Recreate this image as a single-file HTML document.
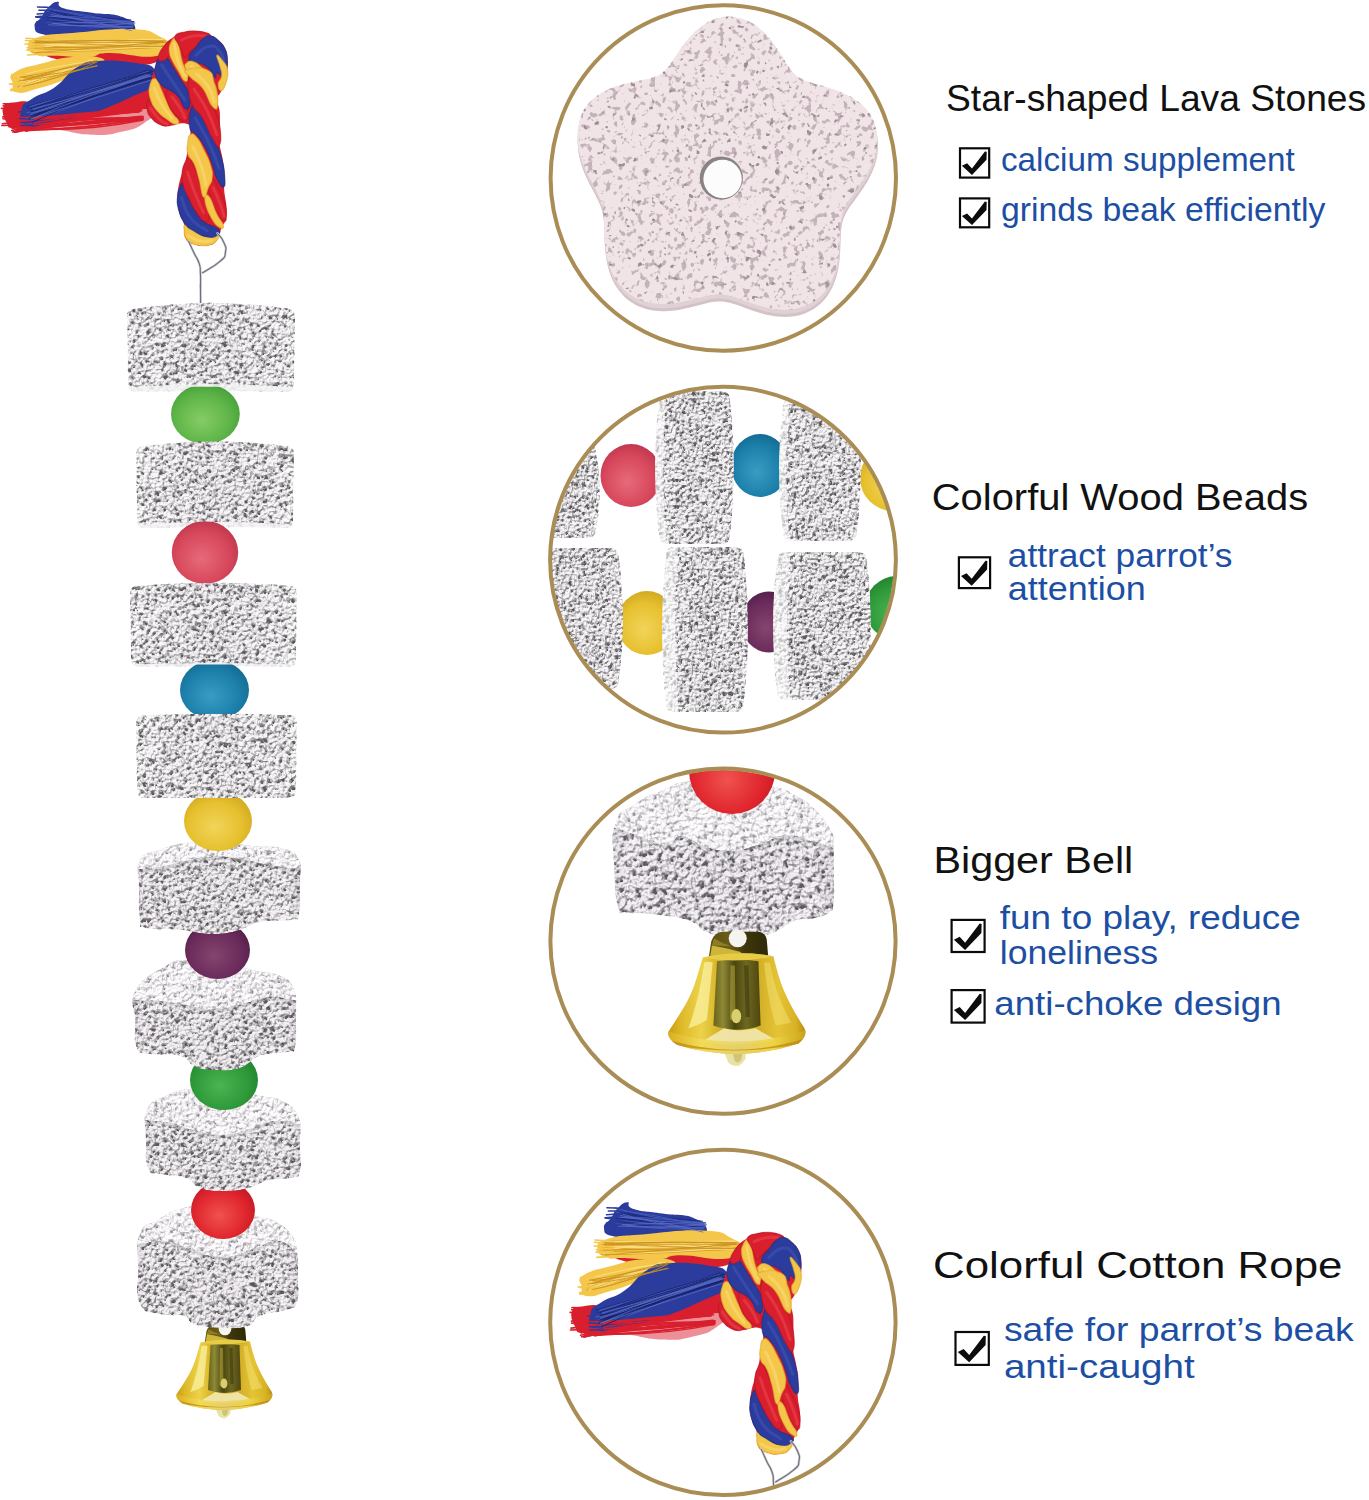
<!DOCTYPE html>
<html><head><meta charset="utf-8"><title>Parrot toy</title>
<style>html,body{margin:0;padding:0;background:#fff}svg{display:block}</style></head>
<body>
<svg width="1369" height="1500" viewBox="0 0 1369 1500" font-family="'Liberation Sans', sans-serif">
<rect width="100%" height="100%" fill="#fff"/>
<defs>


<filter id="pumP" x="-2%" y="-2%" width="104%" height="104%" color-interpolation-filters="sRGB">
  <feTurbulence type="fractalNoise" baseFrequency="0.16" numOctaves="2" seed="9" result="n"/>
  <feColorMatrix in="n" type="matrix" values="0 0 0 0 0.77  0 0 0 0 0.70  0 0 0 0 0.73  9 0 0 0 -5.15" result="sp"/>
  <feColorMatrix in="n" type="matrix" values="0 0 0 0 0.62  0 0 0 0 0.56  0 0 0 0 0.59  0 10 0 0 -6.75" result="sp2"/>
  <feMerge result="m"><feMergeNode in="SourceGraphic"/><feMergeNode in="sp"/><feMergeNode in="sp2"/></feMerge>
  <feComposite in="m" in2="SourceAlpha" operator="in"/>
</filter>



<linearGradient id="sideG" x1="0" y1="0" x2="1" y2="0">
  <stop offset="0" stop-color="#ece9ed"/><stop offset="0.08" stop-color="#f8f6f8"/>
  <stop offset="0.5" stop-color="#f4f2f4"/><stop offset="0.92" stop-color="#f7f5f7"/><stop offset="1" stop-color="#e9e6ea"/>
</linearGradient>
<linearGradient id="stoneG" x1="0" y1="0" x2="1" y2="0">
  <stop offset="0" stop-color="#ffffff"/><stop offset="0.07" stop-color="#fcfbfc"/>
  <stop offset="0.5" stop-color="#f7f6f7"/><stop offset="0.93" stop-color="#fbfafb"/><stop offset="1" stop-color="#ffffff"/>
</linearGradient>
<linearGradient id="topG" x1="0" y1="0" x2="0" y2="1">
  <stop offset="0" stop-color="#fff" stop-opacity="0.85"/><stop offset="0.7" stop-color="#fff" stop-opacity="0.6"/>
  <stop offset="1" stop-color="#fff" stop-opacity="0"/>
</linearGradient>
<linearGradient id="bellG" x1="0" y1="0" x2="1" y2="0">
  <stop offset="0" stop-color="#c99e14"/><stop offset="0.10" stop-color="#dfbb2a"/>
  <stop offset="0.24" stop-color="#ecd24a"/><stop offset="0.36" stop-color="#d8b42a"/>
  <stop offset="0.64" stop-color="#d2ac24"/><stop offset="0.80" stop-color="#e4c436"/>
  <stop offset="0.93" stop-color="#d8b226"/><stop offset="1" stop-color="#b88c10"/>
</linearGradient>
<linearGradient id="bellD" x1="0" y1="0" x2="1" y2="0">
  <stop offset="0" stop-color="#6a6218"/><stop offset="0.2" stop-color="#8e8a36"/>
  <stop offset="0.45" stop-color="#4a4510"/><stop offset="0.7" stop-color="#6e6820"/>
  <stop offset="1" stop-color="#4e4610"/>
</linearGradient>
<linearGradient id="rimG" x1="0" y1="0" x2="1" y2="0">
  <stop offset="0" stop-color="#d8ae1a"/><stop offset="0.25" stop-color="#f3dc58"/>
  <stop offset="0.5" stop-color="#e8d470"/><stop offset="0.75" stop-color="#f0d648"/>
  <stop offset="1" stop-color="#c9a016"/>
</linearGradient>
<linearGradient id="tabG" x1="0" y1="0" x2="1" y2="0">
  <stop offset="0" stop-color="#5a4e12"/><stop offset="0.35" stop-color="#6a5c16"/>
  <stop offset="0.6" stop-color="#3e370c"/><stop offset="1" stop-color="#2e2908"/>
</linearGradient>

<filter id="pum" x="-2%" y="-2%" width="104%" height="104%" color-interpolation-filters="sRGB">
  <feTurbulence type="fractalNoise" baseFrequency="0.25" numOctaves="2" seed="7" result="n"/>
  <feColorMatrix in="n" type="matrix" values="0 0 0 0 0  0 0 0 0 0  0 0 0 0 0  1 0 0 0 0" result="h"/>
  <feDiffuseLighting in="h" surfaceScale="3.2" diffuseConstant="1.06" lighting-color="#f6f4f6" result="lit"><feDistantLight azimuth="240" elevation="71"/></feDiffuseLighting>
  <feComposite in="lit" in2="SourceGraphic" operator="arithmetic" k1="1" k2="0" k3="0" k4="0" result="lit2"/>
  <feColorMatrix in="n" type="matrix" values="0 0 0 0 0.36  0 0 0 0 0.35  0 0 0 0 0.37  -9 0 0 0 3.42" result="sp"/>
  <feMerge result="m"><feMergeNode in="lit2"/><feMergeNode in="sp"/></feMerge>
  <feComposite in="m" in2="SourceAlpha" operator="in"/>
</filter>
<filter id="pumM" x="-2%" y="-2%" width="104%" height="104%" color-interpolation-filters="sRGB">
  <feTurbulence type="fractalNoise" baseFrequency="0.3" numOctaves="2" seed="13" result="n"/>
  <feColorMatrix in="n" type="matrix" values="0 0 0 0 0  0 0 0 0 0  0 0 0 0 0  1 0 0 0 0" result="h"/>
  <feDiffuseLighting in="h" surfaceScale="3.2" diffuseConstant="1.06" lighting-color="#f6f4f6" result="lit"><feDistantLight azimuth="240" elevation="70"/></feDiffuseLighting>
  <feComposite in="lit" in2="SourceGraphic" operator="arithmetic" k1="1" k2="0" k3="0" k4="0" result="lit2"/>
  <feColorMatrix in="n" type="matrix" values="0 0 0 0 0.36  0 0 0 0 0.35  0 0 0 0 0.37  -9 0 0 0 3.44" result="sp"/>
  <feMerge result="m"><feMergeNode in="lit2"/><feMergeNode in="sp"/></feMerge>
  <feComposite in="m" in2="SourceAlpha" operator="in"/>
</filter>
<filter id="pumL" x="-2%" y="-2%" width="104%" height="104%" color-interpolation-filters="sRGB">
  <feTurbulence type="fractalNoise" baseFrequency="0.19" numOctaves="2" seed="5" result="n"/>
  <feColorMatrix in="n" type="matrix" values="0 0 0 0 0  0 0 0 0 0  0 0 0 0 0  1 0 0 0 0" result="h"/>
  <feDiffuseLighting in="h" surfaceScale="3.4" diffuseConstant="1.06" lighting-color="#f5f2f6" result="lit"><feDistantLight azimuth="240" elevation="71"/></feDiffuseLighting>
  <feComposite in="lit" in2="SourceGraphic" operator="arithmetic" k1="1" k2="0" k3="0" k4="0" result="lit2"/>
  <feColorMatrix in="n" type="matrix" values="0 0 0 0 0.36  0 0 0 0 0.35  0 0 0 0 0.37  -9 0 0 0 3.42" result="sp"/>
  <feMerge result="m"><feMergeNode in="lit2"/><feMergeNode in="sp"/></feMerge>
  <feComposite in="m" in2="SourceAlpha" operator="in"/>
</filter>
<filter id="pumT" x="-2%" y="-2%" width="104%" height="104%" color-interpolation-filters="sRGB">
  <feTurbulence type="fractalNoise" baseFrequency="0.27" numOctaves="2" seed="3" result="n"/>
  <feColorMatrix in="n" type="matrix" values="0 0 0 0 0  0 0 0 0 0  0 0 0 0 0  1 0 0 0 0" result="h"/>
  <feDiffuseLighting in="h" surfaceScale="2.2" diffuseConstant="1.05" lighting-color="#f6f4f6" result="lit"><feDistantLight azimuth="240" elevation="76"/></feDiffuseLighting>
  <feComposite in="lit" in2="SourceGraphic" operator="arithmetic" k1="1" k2="0" k3="0" k4="0" result="lit2"/>
  <feColorMatrix in="n" type="matrix" values="0 0 0 0 0.55  0 0 0 0 0.53  0 0 0 0 0.57  -8 0 0 0 2.75" result="sp"/>
  <feMerge result="m"><feMergeNode in="lit2"/><feMergeNode in="sp"/></feMerge>
  <feComposite in="m" in2="SourceAlpha" operator="in"/>
</filter>
<filter id="pumTL" x="-2%" y="-2%" width="104%" height="104%" color-interpolation-filters="sRGB">
  <feTurbulence type="fractalNoise" baseFrequency="0.21" numOctaves="2" seed="3" result="n"/>
  <feColorMatrix in="n" type="matrix" values="0 0 0 0 0  0 0 0 0 0  0 0 0 0 0  1 0 0 0 0" result="h"/>
  <feDiffuseLighting in="h" surfaceScale="2.4" diffuseConstant="1.05" lighting-color="#f6f4f6" result="lit"><feDistantLight azimuth="240" elevation="76"/></feDiffuseLighting>
  <feComposite in="lit" in2="SourceGraphic" operator="arithmetic" k1="1" k2="0" k3="0" k4="0" result="lit2"/>
  <feColorMatrix in="n" type="matrix" values="0 0 0 0 0.58  0 0 0 0 0.54  0 0 0 0 0.58  -8 0 0 0 2.75" result="sp"/>
  <feMerge result="m"><feMergeNode in="lit2"/><feMergeNode in="sp"/></feMerge>
  <feComposite in="m" in2="SourceAlpha" operator="in"/>
</filter>
<radialGradient id="bg1" cx="0.47" cy="0.58" r="0.66" fx="0.44" fy="0.6"><stop offset="0" stop-color="#86cc66"/><stop offset="0.6" stop-color="#5fb548"/><stop offset="1" stop-color="#3f9a36"/></radialGradient>
<radialGradient id="bg2" cx="0.47" cy="0.58" r="0.66" fx="0.44" fy="0.6"><stop offset="0" stop-color="#e66a7a"/><stop offset="0.6" stop-color="#d8485c"/><stop offset="1" stop-color="#b8324a"/></radialGradient>
<radialGradient id="bg3" cx="0.47" cy="0.58" r="0.66" fx="0.44" fy="0.6"><stop offset="0" stop-color="#3a9cc2"/><stop offset="0.6" stop-color="#1c80ab"/><stop offset="1" stop-color="#126488"/></radialGradient>
<radialGradient id="bg4" cx="0.47" cy="0.58" r="0.66" fx="0.44" fy="0.6"><stop offset="0" stop-color="#f2d45a"/><stop offset="0.6" stop-color="#e6c02e"/><stop offset="1" stop-color="#c9a21e"/></radialGradient>
<radialGradient id="bg5" cx="0.47" cy="0.58" r="0.66" fx="0.44" fy="0.6"><stop offset="0" stop-color="#84456f"/><stop offset="0.6" stop-color="#6c2c5c"/><stop offset="1" stop-color="#4c1c44"/></radialGradient>
<radialGradient id="bg6" cx="0.47" cy="0.58" r="0.66" fx="0.44" fy="0.6"><stop offset="0" stop-color="#4bb452"/><stop offset="0.6" stop-color="#2f9a3a"/><stop offset="1" stop-color="#1f7a2c"/></radialGradient>
<radialGradient id="bg7" cx="0.47" cy="0.58" r="0.66" fx="0.44" fy="0.6"><stop offset="0" stop-color="#f0524e"/><stop offset="0.6" stop-color="#e0262e"/><stop offset="1" stop-color="#bc1422"/></radialGradient>
<clipPath id="bc8"><path d="M-24,2.5 Q0,-3 25.5,1.5 C27,8 30,19 33,26 C37,35 42,44 47,51.5 Q50,57 43,62.5 Q22,69.5 0,70 Q-24,69.5 -42,63.5 Q-50,58 -47.5,53.5 C-42,45 -35,35 -31.3,25.7 C-28.5,19 -26,9 -24,2.5Z"/></clipPath>
<clipPath id="c9"><path d="M140,1234C145,1221.5 147,1226.5 158,1220C169,1213.5 168,1211.8 184,1208C200,1204.2 204,1203 222,1205C240,1207 242.5,1211.8 256,1216C269.5,1220.2 267,1217 276,1222C285,1227 286.8,1229 292,1236C297.2,1243 295.5,1240 297,1250C298.5,1260 298,1263 298,1276C298,1289 300,1293.5 297,1302C294,1310.5 295.2,1306.5 286,1310C276.8,1313.5 269.5,1312 260,1316C250.5,1320 258,1323 248,1326C238,1329 233.5,1328.5 220,1328C206.5,1327.5 203,1327 194,1324C185,1321 192.5,1318.5 184,1316C175.5,1313.5 171,1317 160,1314C149,1311 145.5,1315 140,1304C134.5,1293 138,1287.5 138,1270C138,1252.5 135,1246.5 140,1234Z"/></clipPath>
<clipPath id="c10"><path d="M147,1110C152,1099 155.2,1101.2 166,1096C176.8,1090.8 175.2,1091 190,1089C204.8,1087 207.5,1086.2 225,1088C242.5,1089.8 246.2,1093 260,1096C273.8,1099 270.5,1095 280,1100C289.5,1105 293,1104.8 298,1116C303,1127.2 299.5,1131 300,1145C300.5,1159 302,1163.8 300,1172C298,1180.2 299.5,1176 292,1178C284.5,1180 281,1177.5 270,1180C259,1182.5 259.5,1185.2 248,1188C236.5,1190.8 236,1191 224,1191C212,1191 209.5,1191.2 200,1188C190.5,1184.8 196,1181.5 186,1178C176,1174.5 169.5,1176.5 160,1174C150.5,1171.5 151.5,1176.5 148,1168C144.5,1159.5 146.2,1154.5 146,1140C145.8,1125.5 142,1121 147,1110Z"/></clipPath>
<clipPath id="c11"><path d="M136,990C143.8,976.5 153,973.5 166,966C179,958.5 174.5,961 188,960C201.5,959 204,959.5 220,962C236,964.5 237,966.5 252,970C267,973.5 269.5,971 280,976C290.5,981 290,979 294,990C298,1001 295.8,1005.5 296,1020C296.2,1034.5 297,1040 295,1048C293,1056 296.8,1050 288,1052C279.2,1054 272,1052 260,1056C248,1060 252,1064.5 240,1068C228,1071.5 223.5,1070.5 212,1070C200.5,1069.5 202,1069.5 194,1066C186,1062.5 191,1059 180,1056C169,1053 160.8,1056 150,1054C139.2,1052 140.8,1056.5 137,1048C133.2,1039.5 135.2,1034.5 135,1020C134.8,1005.5 128.2,1003.5 136,990Z"/></clipPath>
<clipPath id="c12"><path d="M140,860C145.2,850 148.5,854.2 160,850C171.5,845.8 171,845.2 186,843C201,840.8 203.5,840.2 220,841C236.5,841.8 237,844.2 252,846C267,847.8 268.5,845 280,848C291.5,851 293,848.8 298,858C303,867.2 299.8,871 300,885C300.2,899 301,905.2 299,914C297,922.8 301.8,918 292,920C282.2,922 273,919.5 260,922C247,924.5 252,927 240,930C228,933 227,934 212,934C197,934 196.5,931.5 180,930C163.5,928.5 156,930.5 146,928C136,925.5 141.8,929.5 140,920C138.2,910.5 139,905 139,890C139,875 134.8,870 140,860Z"/></clipPath>
<clipPath id="c13"><path d="M127,316Q127,309 134,308.5Q211,297 288,308.5Q295,309 295,316L294,384.5Q294,391.5 287,391.5Q211,390.5 135,391.5Q128,391.5 128,384.5Z"/></clipPath>
<clipPath id="bf14"><rect x="169" y="386.8" width="72.8" height="70"/></clipPath>
<clipPath id="c15"><path d="M136,453.5Q136,446.5 143,446Q215,436.5 287,446Q294,446.5 294,453.5L293,521Q293,528 286,528Q215,526 144,528Q137,528 137,521Z"/></clipPath>
<clipPath id="bf16"><rect x="169.8" y="521.6" width="70.4" height="73"/></clipPath>
<clipPath id="c17"><path d="M130,593Q130,586 137,585.5Q213.5,580 290,585.5Q297,586 297,593L296,659.5Q296,666.5 289,666.5Q213.5,665.5 138,666.5Q131,666.5 131,659.5Z"/></clipPath>
<clipPath id="bf18"><rect x="178" y="664.5" width="73" height="70"/></clipPath>
<clipPath id="cc0"><circle cx="723.3" cy="178.05" r="171.2"/></clipPath>
<clipPath id="cc1"><circle cx="723" cy="559.7" r="171.4"/></clipPath>
<clipPath id="cc2"><circle cx="723" cy="941.2" r="171.1"/></clipPath>
<clipPath id="cc3"><circle cx="722.9" cy="1322.4" r="171.2"/></clipPath>
<clipPath id="c19"><path d="M659,400Q659,391 668,391L721,391Q730,391 730,400Q738,467.5 730,535Q730,544 721,544L668,544Q659,544 659,535Q651,467.5 659,400Z"/></clipPath>
<clipPath id="c20"><path d="M783,407Q783,398 792,398L848,398Q857,398 857,407Q865,469.5 857,532Q857,541 848,541L792,541Q783,541 783,532Q775,469.5 783,407Z"/></clipPath>
<clipPath id="c21"><path d="M666,556Q666,547 675,547L735,547Q744,547 744,556Q752,629.5 744,703Q744,712 735,712L675,712Q666,712 666,703Q658,629.5 666,556Z"/></clipPath>
<clipPath id="c22"><path d="M777,561Q777,552 786,552L858,552Q867,552 867,561Q875,626 867,691Q867,700 858,700L786,700Q777,700 777,691Q769,626 777,561Z"/></clipPath>
<clipPath id="c23"><path d="M615.5,824C621.9,806 620.9,814.2 635.4,804C649.9,793.8 647.7,796.7 663.9,789.9C680.1,783.1 669.1,784.7 689.5,781.3C709.9,777.9 706.4,776.8 732,778.5C757.6,780.2 756.1,781.9 775,787C793.9,792.1 783,788.8 795,795.6C807,802.4 803.9,798.7 815,809.8C826.1,820.9 826.5,822.3 832,832.6C837.5,842.9 832.8,831.3 833.4,844C834,856.7 834,857.1 834,875C834,892.9 834.9,892.6 833.4,903.8C831.9,915 834.5,908.1 829,912.4C823.5,916.7 825.2,915.4 815,918C804.8,920.6 807,916.7 795,921C783,925.3 786.1,927.8 775,932.3C763.9,936.8 771.5,934.6 758,936C744.5,937.4 745.4,938.1 730,937C714.6,935.9 718.8,937.1 706.6,932.3C694.5,927.5 704,926.2 689.5,921C675,915.8 677,917.6 658.2,915C639.4,912.4 638.9,914.5 626.9,912.4C614.9,910.3 622.2,922.5 618.3,908C614.4,893.5 614.8,889.2 614,864C613.2,838.8 609.1,842 615.5,824Z"/></clipPath>
<clipPath id="bc24"><path d="M-24,2.5 Q0,-3 25.5,1.5 C27,8 30,19 33,26 C37,35 42,44 47,51.5 Q50,57 43,62.5 Q22,69.5 0,70 Q-24,69.5 -42,63.5 Q-50,58 -47.5,53.5 C-42,45 -35,35 -31.3,25.7 C-28.5,19 -26,9 -24,2.5Z"/></clipPath></defs>
<g id="rope"><path d="M30.7,109.6C40,102.3 44.7,105.5 65.7,100.8C86.8,96.1 86.8,99.1 109.6,92C132.4,85 137.5,74.5 151.2,74.5C164.9,74.5 159.6,82.7 161.1,92C162.5,101.4 161.1,101.4 156.7,109.6C152.3,117.8 153.7,116.9 144.6,122.7C135.6,128.6 136.8,128.3 122.7,131.5C108.7,134.7 110.2,135.4 92,134.8C73.9,134.2 71.2,131.1 54.8,129.3C38.4,127.5 37.1,133.5 30.7,128.2C24.3,122.9 21.3,116.9 30.7,109.6Z" fill="#d91f2e" opacity="0.5"/><path d="M11.7,116.5Q77.4,106.4 150.6,99.2" stroke="#d91f2e" stroke-width="1.5" fill="none" stroke-linecap="round"/><path d="M15.5,129.4Q84.4,111.3 152.7,99.9" stroke="#d91f2e" stroke-width="1.5" fill="none" stroke-linecap="round"/><path d="M11.3,116.6Q83.4,116.7 149.6,107.7" stroke="#d91f2e" stroke-width="1.5" fill="none" stroke-linecap="round"/><path d="M14.8,118.2Q84.5,116.6 150.2,104.4" stroke="#d91f2e" stroke-width="1.5" fill="none" stroke-linecap="round"/><path d="M15.2,116.2Q83.6,105.8 151.8,104.9" stroke="#d91f2e" stroke-width="1.5" fill="none" stroke-linecap="round"/><path d="M13,116.3Q83.7,108.7 153.6,107" stroke="#d91f2e" stroke-width="1.5" fill="none" stroke-linecap="round"/><path d="M15.4,125.2Q84.4,114.7 153.3,106.8" stroke="#d91f2e" stroke-width="1.5" fill="none" stroke-linecap="round"/><path d="M13.7,122.6Q84.3,104.9 149.3,100.8" stroke="#d91f2e" stroke-width="1.5" fill="none" stroke-linecap="round"/><path d="M10.6,126.1Q80.1,112.4 150,103.4" stroke="#d91f2e" stroke-width="1.5" fill="none" stroke-linecap="round"/><path d="M15.9,118.2Q84.5,105.6 150.7,99.7" stroke="#d91f2e" stroke-width="1.5" fill="none" stroke-linecap="round"/><path d="M12.4,128.4Q84.8,110.1 150.2,103.6" stroke="#d91f2e" stroke-width="1.5" fill="none" stroke-linecap="round"/><path d="M10.7,118.8Q79.4,109 152.7,104.3" stroke="#d91f2e" stroke-width="1.5" fill="none" stroke-linecap="round"/><path d="M11.4,123.1Q83.5,120.9 148.7,105.2" stroke="#d91f2e" stroke-width="1.5" fill="none" stroke-linecap="round"/><path d="M14.4,132.3Q85.6,120.6 148.6,100.7" stroke="#d91f2e" stroke-width="1.5" fill="none" stroke-linecap="round"/><path d="M12.7,132Q80.5,114.6 151.9,106.5" stroke="#d91f2e" stroke-width="1.5" fill="none" stroke-linecap="round"/><path d="M12.8,117.1Q80.2,105.3 150.6,108.1" stroke="#d91f2e" stroke-width="1.5" fill="none" stroke-linecap="round"/><path d="M10.6,117.7Q79.9,103.6 152.8,101.5" stroke="#d91f2e" stroke-width="1.5" fill="none" stroke-linecap="round"/><path d="M15.8,122.4Q78.8,105.3 149.6,98.1" stroke="#d91f2e" stroke-width="1.5" fill="none" stroke-linecap="round"/><path d="M14.1,117.4Q79.2,117.6 148.7,102.9" stroke="#d91f2e" stroke-width="1.5" fill="none" stroke-linecap="round"/><path d="M11.1,124.4Q86.2,112.8 152.7,102" stroke="#d91f2e" stroke-width="1.5" fill="none" stroke-linecap="round"/><path d="M11.7,122.2Q78,118 148.7,102.1" stroke="#d91f2e" stroke-width="1.5" fill="none" stroke-linecap="round"/><path d="M15,123.8Q79.5,107.7 148.6,100.3" stroke="#d91f2e" stroke-width="1.5" fill="none" stroke-linecap="round"/><path d="M11.7,130.6Q84.2,115.3 149.2,98" stroke="#d91f2e" stroke-width="1.5" fill="none" stroke-linecap="round"/><path d="M15.9,122Q87.2,117 153.4,104.7" stroke="#d91f2e" stroke-width="1.5" fill="none" stroke-linecap="round"/><path d="M13.1,116.3Q84.9,118.1 149.6,107.1" stroke="#d91f2e" stroke-width="1.5" fill="none" stroke-linecap="round"/><path d="M12.2,126.7Q85.3,116.1 152.9,104.6" stroke="#d91f2e" stroke-width="1.5" fill="none" stroke-linecap="round"/><path d="M14,127.2Q86,111.1 149.9,107.7" stroke="#d91f2e" stroke-width="1.5" fill="none" stroke-linecap="round"/><path d="M15.8,132.3Q87.4,109.6 152.1,98" stroke="#d91f2e" stroke-width="1.5" fill="none" stroke-linecap="round"/><path d="M15.7,126.9Q83.4,114.1 148.8,99.3" stroke="#d91f2e" stroke-width="1.5" fill="none" stroke-linecap="round"/><path d="M14.5,131.7Q85.8,107.3 149.7,97.5" stroke="#d91f2e" stroke-width="1.5" fill="none" stroke-linecap="round"/><path d="M27.2,125.2Q88.5,123.3 143.2,119.7" stroke="#d91f2e" stroke-width="1.4" fill="none" stroke-linecap="round"/><path d="M27.2,125.9Q88.5,126.5 142.9,117.5" stroke="#d91f2e" stroke-width="1.4" fill="none" stroke-linecap="round"/><path d="M26.2,128.4Q84.6,122.1 141.3,116.1" stroke="#d91f2e" stroke-width="1.4" fill="none" stroke-linecap="round"/><path d="M27.2,129.1Q86.7,123.8 141.6,117.7" stroke="#d91f2e" stroke-width="1.4" fill="none" stroke-linecap="round"/><path d="M25.1,130.9Q84.6,121.5 143.2,116.4" stroke="#d91f2e" stroke-width="1.4" fill="none" stroke-linecap="round"/><path d="M27,126.7Q88.5,115.4 141.8,118.3" stroke="#d91f2e" stroke-width="1.4" fill="none" stroke-linecap="round"/><path d="M25.4,129.2Q83.8,130.1 143.4,118.4" stroke="#d91f2e" stroke-width="1.4" fill="none" stroke-linecap="round"/><path d="M27,124.8Q83.4,126.7 143.4,116.9" stroke="#d91f2e" stroke-width="1.4" fill="none" stroke-linecap="round"/><path d="M26.1,130.6Q81.1,119.2 141.7,120.1" stroke="#d91f2e" stroke-width="1.4" fill="none" stroke-linecap="round"/><path d="M26.3,126.9Q86.3,114.9 142.5,120.3" stroke="#d91f2e" stroke-width="1.4" fill="none" stroke-linecap="round"/><path d="M25.9,128.6Q84,116.5 142.4,119.4" stroke="#d91f2e" stroke-width="1.4" fill="none" stroke-linecap="round"/><path d="M25.7,130.9Q88.2,127.5 142.1,119.6" stroke="#d91f2e" stroke-width="1.4" fill="none" stroke-linecap="round"/><path d="M26.7,129.1Q84.1,131.9 142,120.3" stroke="#d91f2e" stroke-width="1.4" fill="none" stroke-linecap="round"/><path d="M25.8,131.1Q84,118.7 143.1,118.9" stroke="#d91f2e" stroke-width="1.4" fill="none" stroke-linecap="round"/><path d="M3.3,107.4C5,102 5.8,103.7 13.1,102.6C20.5,101.4 25.4,100 30.7,103C35.9,106 33.2,107.8 32.9,114C32.6,120.1 34.8,122.2 29.6,126C24.3,129.8 19.3,129.1 13.1,128.2C7,127.3 9.2,128.3 6.6,122.7C3.9,117.2 1.5,112.8 3.3,107.4Z" fill="#d91f2e" /><path d="M30.7,105.2C40,98.5 44.7,101.6 65.7,97.5C86.8,93.4 86.8,96 109.6,89.9C132.4,83.7 137.8,73.9 151.2,74.5C164.7,75.1 159.4,83.9 160,92C160.6,100.2 163.3,100.5 153.4,105.2C143.5,109.9 140.3,107.2 122.7,109.6C105.2,111.9 105.8,111.6 87.7,114C69.5,116.3 70,116 54.8,118.3C39.6,120.7 37.1,126.2 30.7,122.7C24.3,119.2 21.3,111.9 30.7,105.2Z" fill="#d91f2e" /><path d="M43.8,51.5C49.7,49.2 61.4,53.4 87.7,52.6C114,51.8 123.7,46.3 142.5,48.7C161.2,51 166.6,56.8 157.8,61.4C149,65.9 134.1,65.7 109.6,65.7C85,65.7 83.3,65.2 65.7,61.4C48.2,57.6 38,53.8 43.8,51.5Z" fill="#d91f2e" /><path d="M3.3,103.7L13.1,104.1" stroke="#d91f2e" stroke-width="1.6" stroke-linecap="round"/><path d="M3.1,105.8L13.1,106.7" stroke="#d91f2e" stroke-width="1.6" stroke-linecap="round"/><path d="M1.5,108.4L13.1,109.4" stroke="#d91f2e" stroke-width="1.6" stroke-linecap="round"/><path d="M3.4,111.1L13.1,112" stroke="#d91f2e" stroke-width="1.6" stroke-linecap="round"/><path d="M3.7,114.3L13.1,114.6" stroke="#d91f2e" stroke-width="1.6" stroke-linecap="round"/><path d="M2.8,116.9L13.1,117.2" stroke="#d91f2e" stroke-width="1.6" stroke-linecap="round"/><path d="M2.9,118.8L13.1,119.9" stroke="#d91f2e" stroke-width="1.6" stroke-linecap="round"/><path d="M2.4,123.7L13.1,122.5" stroke="#d91f2e" stroke-width="1.6" stroke-linecap="round"/><path d="M1.8,125.5L13.1,125.1" stroke="#d91f2e" stroke-width="1.6" stroke-linecap="round"/><path d="M57.4,1.8C61.8,1.6 54.3,5.4 63.6,8.3C72.8,11.2 76.3,10.4 92,12.7C107.8,15 111.2,12.6 122.7,17.1C134.3,21.6 135.4,25.4 135.4,29.6C135.4,33.8 139.6,31.4 122.7,32.9C105.9,34.3 93.4,34.6 72.3,35.1C51.3,35.5 53.9,37 43.8,34.6C33.8,32.3 35.2,31 34.6,26.3C34,21.6 38.3,21.8 41.6,17.1C45,12.4 42.9,12.9 47.1,8.8C51.3,4.7 53,1.9 57.4,1.8Z" fill="#2b3c9c" /><path d="M46.2,11.8Q91.5,19.2 129,20.2" stroke="#1f2c80" stroke-width="1.1" fill="none" stroke-linecap="round"/><path d="M48.7,20.7Q92,21.1 133.9,21.6" stroke="#1f2c80" stroke-width="1.1" fill="none" stroke-linecap="round"/><path d="M47.5,23Q86.8,28 132.9,30.1" stroke="#1f2c80" stroke-width="1.1" fill="none" stroke-linecap="round"/><path d="M48,19.6Q88.3,28.3 132.1,28.7" stroke="#1f2c80" stroke-width="1.1" fill="none" stroke-linecap="round"/><path d="M46.6,17.1Q88.4,19.6 133.6,27.3" stroke="#1f2c80" stroke-width="1.1" fill="none" stroke-linecap="round"/><path d="M46.2,17.6Q89.3,22.5 134.1,29.4" stroke="#1f2c80" stroke-width="1.1" fill="none" stroke-linecap="round"/><path d="M48.8,11.5Q87.1,16.2 131,20.1" stroke="#1f2c80" stroke-width="1.1" fill="none" stroke-linecap="round"/><path d="M48.1,17.4Q90.5,20.3 130.8,29.9" stroke="#1f2c80" stroke-width="1.1" fill="none" stroke-linecap="round"/><path d="M44.8,23.6Q90.4,24.8 134.1,29.6" stroke="#1f2c80" stroke-width="1.1" fill="none" stroke-linecap="round"/><path d="M45,11.1Q90.9,23.1 130,29.7" stroke="#1f2c80" stroke-width="1.1" fill="none" stroke-linecap="round"/><path d="M45.3,10.8Q84.9,23.1 130.4,29.9" stroke="#4558b6" stroke-width="1.0" fill="none" stroke-linecap="round"/><path d="M48.1,16.2Q91.2,16.1 133.9,22.7" stroke="#4558b6" stroke-width="1.0" fill="none" stroke-linecap="round"/><path d="M45,7.1Q83.9,18.9 130.5,21.2" stroke="#4558b6" stroke-width="1.0" fill="none" stroke-linecap="round"/><path d="M46,22.2Q90.6,29.3 132.6,27.6" stroke="#4558b6" stroke-width="1.0" fill="none" stroke-linecap="round"/><path d="M49.1,19.2Q92.4,23.7 131.8,27.2" stroke="#4558b6" stroke-width="1.0" fill="none" stroke-linecap="round"/><path d="M47.1,9.3Q86.4,14 133.3,25" stroke="#4558b6" stroke-width="1.0" fill="none" stroke-linecap="round"/><path d="M39.4,36.8C51.3,33.3 47.8,34.9 72.3,32.9C96.9,30.8 108.1,28.1 131.5,29.1C154.9,30.2 149.9,32 160,36.8C170,41.6 170.9,41.9 169.2,47.1C167.4,52.4 169.3,55 153.4,56.5C137.5,58.1 127.1,52.9 109.6,53C92,53.2 102.3,56.3 87.7,57C73.1,57.7 68.2,56.1 54.8,55.7C41.3,55.2 44.4,57.8 37.3,55.2C30.1,52.7 27.5,50.9 28.1,46C28.6,41.1 27.6,40.3 39.4,36.8Z" fill="#f4c64a" /><path d="M34.6,42.2Q101.3,42.2 161.7,45.6" stroke="#dba52a" stroke-width="1.0" fill="none" stroke-linecap="round"/><path d="M32.3,44.8Q91.9,50.5 159.9,47.4" stroke="#dba52a" stroke-width="1.0" fill="none" stroke-linecap="round"/><path d="M31.2,40.6Q95.2,44.3 163.8,46.9" stroke="#dba52a" stroke-width="1.0" fill="none" stroke-linecap="round"/><path d="M32.8,49.5Q101.1,50.2 160.7,46.9" stroke="#dba52a" stroke-width="1.0" fill="none" stroke-linecap="round"/><path d="M34.9,52.9Q101.2,50.9 161.6,47.1" stroke="#dba52a" stroke-width="1.0" fill="none" stroke-linecap="round"/><path d="M31,47.9Q98.9,48.8 164.1,42" stroke="#dba52a" stroke-width="1.0" fill="none" stroke-linecap="round"/><path d="M33.3,38.7Q101.2,41.7 162.8,41.5" stroke="#dba52a" stroke-width="1.0" fill="none" stroke-linecap="round"/><path d="M32,52.3Q100.3,51.1 162.8,42.3" stroke="#dba52a" stroke-width="1.0" fill="none" stroke-linecap="round"/><path d="M34.7,52.1Q99.7,49.2 162.9,45.7" stroke="#dba52a" stroke-width="1.0" fill="none" stroke-linecap="round"/><path d="M35.2,43.7Q97.7,45.2 160.2,45.9" stroke="#dba52a" stroke-width="1.0" fill="none" stroke-linecap="round"/><path d="M33.3,42.1Q99.5,44.9 160.8,39.8" stroke="#fbde80" stroke-width="1.0" fill="none" stroke-linecap="round"/><path d="M33.8,40Q99.2,38.6 164.4,46.9" stroke="#fbde80" stroke-width="1.0" fill="none" stroke-linecap="round"/><path d="M34.5,48Q100.7,39.1 162.8,39.3" stroke="#fbde80" stroke-width="1.0" fill="none" stroke-linecap="round"/><path d="M32.8,40.4Q99.3,47 161.5,47.5" stroke="#fbde80" stroke-width="1.0" fill="none" stroke-linecap="round"/><path d="M31.9,44.3Q96.5,46.4 162.7,39.4" stroke="#fbde80" stroke-width="1.0" fill="none" stroke-linecap="round"/><path d="M34.1,51.7Q100.2,50.7 161.2,45.6" stroke="#fbde80" stroke-width="1.0" fill="none" stroke-linecap="round"/><path d="M32.6,40.9Q100,42 159.9,47.5" stroke="#fbde80" stroke-width="1.0" fill="none" stroke-linecap="round"/><path d="M34.1,44.6Q96.9,47 162.8,47.1" stroke="#fbde80" stroke-width="1.0" fill="none" stroke-linecap="round"/><path d="M14.9,72.3C23.2,66.9 28.5,67.2 43.8,63.1C59.1,59 56.8,58.3 72.3,57C87.8,55.7 96.1,55.7 101.9,58.3C107.8,60.9 103.9,61.2 94.2,66.8C84.6,72.5 80.4,73.7 65.7,79.3C51.1,85 52.3,84.6 39.4,88.1C26.6,91.6 24.7,93.8 17.5,92.5C10.4,91.2 13.4,88.7 12.7,83.3C12,77.9 6.6,77.7 14.9,72.3Z" fill="#f4c64a" /><path d="M18.7,81.2Q52.5,75.4 90.1,61.6" stroke="#dba52a" stroke-width="1.0" fill="none" stroke-linecap="round"/><path d="M18.2,84.7Q51.3,72.2 90.3,67.6" stroke="#dba52a" stroke-width="1.0" fill="none" stroke-linecap="round"/><path d="M18.5,87.2Q55.6,73.3 92.8,66.8" stroke="#dba52a" stroke-width="1.0" fill="none" stroke-linecap="round"/><path d="M19.1,80.5Q54.3,73.9 94.1,60.7" stroke="#dba52a" stroke-width="1.0" fill="none" stroke-linecap="round"/><path d="M18.1,87.7Q56.1,79.8 91.2,64.1" stroke="#dba52a" stroke-width="1.0" fill="none" stroke-linecap="round"/><path d="M17.9,86Q50.2,78.2 90.7,65.4" stroke="#dba52a" stroke-width="1.0" fill="none" stroke-linecap="round"/><path d="M18.4,77Q52.7,74.2 90.1,62.1" stroke="#dba52a" stroke-width="1.0" fill="none" stroke-linecap="round"/><path d="M20.2,79.2Q54.6,74.4 94.1,60.8" stroke="#dba52a" stroke-width="1.0" fill="none" stroke-linecap="round"/><path d="M21.6,83.7Q61.4,73.7 94.1,59.8" stroke="#fbde80" stroke-width="1.0" fill="none" stroke-linecap="round"/><path d="M20.4,85.9Q52.2,73.3 90.4,61" stroke="#fbde80" stroke-width="1.0" fill="none" stroke-linecap="round"/><path d="M19.9,81.7Q58.7,76.1 91.5,65.6" stroke="#fbde80" stroke-width="1.0" fill="none" stroke-linecap="round"/><path d="M17.8,76.2Q55,65.8 90.9,61.4" stroke="#fbde80" stroke-width="1.0" fill="none" stroke-linecap="round"/><path d="M20.2,78.9Q59.8,69.1 91.5,65.3" stroke="#fbde80" stroke-width="1.0" fill="none" stroke-linecap="round"/><path d="M19.1,87.8Q52.3,76.8 90.8,59.6" stroke="#fbde80" stroke-width="1.0" fill="none" stroke-linecap="round"/><path d="M21.5,109.6C22.8,102.2 24,104.1 32.9,98.2C41.8,92.2 43.1,95.4 54.8,87.2C66.5,79 65,74.5 76.7,67.5C88.4,60.5 82.8,62.1 98.6,60.9C114.4,59.8 120.8,60.7 135.9,63.1C151,65.6 150.6,64.3 155.2,70.1C159.7,76 159.3,77.9 153,85C146.7,92.2 148.9,89 131.5,96.9C114.1,104.7 108.1,108 87.7,114.4C67.2,120.8 70.7,117.9 54.8,121C38.9,124 36.9,128.8 28.1,125.8C19.2,122.8 20.2,116.9 21.5,109.6Z" fill="#2b3c9c" /><path d="M29.6,120.9Q87.6,97.6 149,70.2" stroke="#1f2c80" stroke-width="1.1" fill="none" stroke-linecap="round"/><path d="M28,108.3Q86.9,90.7 148.4,74.2" stroke="#1f2c80" stroke-width="1.1" fill="none" stroke-linecap="round"/><path d="M26.8,106.5Q87.9,87.9 150.4,76.7" stroke="#1f2c80" stroke-width="1.1" fill="none" stroke-linecap="round"/><path d="M27.5,114.9Q93.4,94.9 150.9,74.3" stroke="#1f2c80" stroke-width="1.1" fill="none" stroke-linecap="round"/><path d="M27,115.8Q90.2,91 149.5,75.5" stroke="#1f2c80" stroke-width="1.1" fill="none" stroke-linecap="round"/><path d="M28.2,118.7Q85,92.4 147.3,70.2" stroke="#1f2c80" stroke-width="1.1" fill="none" stroke-linecap="round"/><path d="M28.2,111Q87.6,92.9 149.7,71.4" stroke="#1f2c80" stroke-width="1.1" fill="none" stroke-linecap="round"/><path d="M28.7,121.2Q88.4,97.1 151.1,72.2" stroke="#1f2c80" stroke-width="1.1" fill="none" stroke-linecap="round"/><path d="M28.7,111.8Q89.5,88.1 150.7,71.6" stroke="#1f2c80" stroke-width="1.1" fill="none" stroke-linecap="round"/><path d="M30.3,115.5Q92.7,94.2 151.3,71.1" stroke="#1f2c80" stroke-width="1.1" fill="none" stroke-linecap="round"/><path d="M26.4,119Q92.5,97.5 150.8,70.5" stroke="#1f2c80" stroke-width="1.1" fill="none" stroke-linecap="round"/><path d="M29,114.7Q88.2,96 147.9,70.3" stroke="#1f2c80" stroke-width="1.1" fill="none" stroke-linecap="round"/><path d="M27.1,113.5Q91.6,98.7 148,76.3" stroke="#4558b6" stroke-width="1.0" fill="none" stroke-linecap="round"/><path d="M27.5,112.6Q90.2,97 146.7,74.8" stroke="#4558b6" stroke-width="1.0" fill="none" stroke-linecap="round"/><path d="M26.5,112.9Q90.4,91.3 147,73.8" stroke="#4558b6" stroke-width="1.0" fill="none" stroke-linecap="round"/><path d="M30.1,121.1Q94,100.5 150.5,71.7" stroke="#4558b6" stroke-width="1.0" fill="none" stroke-linecap="round"/><path d="M30.9,106.2Q88.9,88.7 146.7,72.5" stroke="#4558b6" stroke-width="1.0" fill="none" stroke-linecap="round"/><path d="M26.6,116.2Q88.3,96.4 149.8,75.7" stroke="#4558b6" stroke-width="1.0" fill="none" stroke-linecap="round"/><path d="M29.4,107.1Q85.6,91.6 148.7,71.1" stroke="#4558b6" stroke-width="1.0" fill="none" stroke-linecap="round"/><path d="M27.7,111.4Q84.5,94.7 148,75.3" stroke="#4558b6" stroke-width="1.0" fill="none" stroke-linecap="round"/><path d="M11.7,127.7Q75.8,118.9 139.1,111.3" stroke="#d91f2e" stroke-width="1.4" fill="none" stroke-linecap="round"/><path d="M12.5,121.2Q77.1,113.2 141.1,109.7" stroke="#d91f2e" stroke-width="1.4" fill="none" stroke-linecap="round"/><path d="M13.6,119.1Q77.3,115.6 140.2,110.6" stroke="#d91f2e" stroke-width="1.4" fill="none" stroke-linecap="round"/><path d="M13.4,119.4Q79.5,119.1 141.8,110.8" stroke="#d91f2e" stroke-width="1.4" fill="none" stroke-linecap="round"/><path d="M13,120.9Q74.6,113 139.6,108.4" stroke="#d91f2e" stroke-width="1.4" fill="none" stroke-linecap="round"/><path d="M12.2,122.6Q77.3,114 139.6,108.7" stroke="#d91f2e" stroke-width="1.4" fill="none" stroke-linecap="round"/><path d="M14.3,126Q74.2,115.3 139.7,111.8" stroke="#d91f2e" stroke-width="1.4" fill="none" stroke-linecap="round"/><path d="M14.8,117.6Q72.3,116.2 138.6,112" stroke="#d91f2e" stroke-width="1.4" fill="none" stroke-linecap="round"/><path d="M37.5,7L52.6,7.6" stroke="#2b3c9c" stroke-width="1.5" stroke-linecap="round"/><path d="M38.9,10.2L52.6,10.2" stroke="#2b3c9c" stroke-width="1.5" stroke-linecap="round"/><path d="M37.1,13.9L52.6,12.9" stroke="#2b3c9c" stroke-width="1.5" stroke-linecap="round"/><path d="M35.8,16.7L52.6,15.2" stroke="#2b3c9c" stroke-width="1.5" stroke-linecap="round"/><path d="M35.7,16.9L52.6,19.1" stroke="#2b3c9c" stroke-width="1.5" stroke-linecap="round"/><path d="M37,21.8L52.6,21.1" stroke="#2b3c9c" stroke-width="1.5" stroke-linecap="round"/><path d="M38.9,23.2L52.6,23.5" stroke="#2b3c9c" stroke-width="1.5" stroke-linecap="round"/><path d="M37.9,24.8L52.6,26.1" stroke="#2b3c9c" stroke-width="1.5" stroke-linecap="round"/><path d="M38.2,29.2L52.6,28.9" stroke="#2b3c9c" stroke-width="1.5" stroke-linecap="round"/><path d="M38.8,31.4L52.6,31.9" stroke="#2b3c9c" stroke-width="1.5" stroke-linecap="round"/><path d="M25.9,38.3L43.8,39.4" stroke="#f4c64a" stroke-width="1.5" stroke-linecap="round"/><path d="M25.3,40.4L43.8,41.6" stroke="#f4c64a" stroke-width="1.5" stroke-linecap="round"/><path d="M25,44.1L43.8,44.5" stroke="#f4c64a" stroke-width="1.5" stroke-linecap="round"/><path d="M27.2,47.7L43.8,46.3" stroke="#f4c64a" stroke-width="1.5" stroke-linecap="round"/><path d="M26.9,50.1L43.8,48.8" stroke="#f4c64a" stroke-width="1.5" stroke-linecap="round"/><path d="M27.7,50L43.8,51.8" stroke="#f4c64a" stroke-width="1.5" stroke-linecap="round"/><path d="M27.6,55.1L43.8,54" stroke="#f4c64a" stroke-width="1.5" stroke-linecap="round"/><path d="M11.7,74.5L26.3,75" stroke="#f4c64a" stroke-width="1.5" stroke-linecap="round"/><path d="M12.3,77.6L26.3,77.6" stroke="#f4c64a" stroke-width="1.5" stroke-linecap="round"/><path d="M12.4,79.4L26.3,79.9" stroke="#f4c64a" stroke-width="1.5" stroke-linecap="round"/><path d="M9.3,83.9L26.3,82.9" stroke="#f4c64a" stroke-width="1.5" stroke-linecap="round"/><path d="M11.6,84.6L26.3,85" stroke="#f4c64a" stroke-width="1.5" stroke-linecap="round"/><path d="M10.9,89.2L26.3,87.9" stroke="#f4c64a" stroke-width="1.5" stroke-linecap="round"/><path d="M10.7,90.5L26.3,91.2" stroke="#f4c64a" stroke-width="1.5" stroke-linecap="round"/><path d="M18.8,112.1L32.9,110.3" stroke="#2b3c9c" stroke-width="1.5" stroke-linecap="round"/><path d="M20.9,114.5L32.9,113.6" stroke="#2b3c9c" stroke-width="1.5" stroke-linecap="round"/><path d="M21,115.8L32.9,116" stroke="#2b3c9c" stroke-width="1.5" stroke-linecap="round"/><path d="M19.7,118.4L32.9,119.5" stroke="#2b3c9c" stroke-width="1.5" stroke-linecap="round"/><path d="M20.4,122.4L32.9,122.5" stroke="#2b3c9c" stroke-width="1.5" stroke-linecap="round"/><path d="M21.1,125.5L32.9,125.3" stroke="#2b3c9c" stroke-width="1.5" stroke-linecap="round"/><path d="M52.4,23.5Q94.9,27.7 133,26.4" stroke="#5a6cc8" stroke-width="0.8" fill="none" stroke-linecap="round"/><path d="M52.3,23.5Q94.5,20.7 134.5,24" stroke="#5a6cc8" stroke-width="0.8" fill="none" stroke-linecap="round"/><path d="M51.1,14.6Q94.5,20.7 131.4,30.6" stroke="#5a6cc8" stroke-width="0.8" fill="none" stroke-linecap="round"/><path d="M48.3,24.8Q94.4,27.2 135,23" stroke="#5a6cc8" stroke-width="0.8" fill="none" stroke-linecap="round"/><path d="M50.8,16.2Q90.7,21.3 131.6,22.2" stroke="#5a6cc8" stroke-width="0.8" fill="none" stroke-linecap="round"/><path d="M35.7,43Q101.7,38.9 165.7,41" stroke="#c98f1c" stroke-width="0.8" fill="none" stroke-linecap="round"/><path d="M32.9,42.6Q95,42.3 165.7,42.4" stroke="#c98f1c" stroke-width="0.8" fill="none" stroke-linecap="round"/><path d="M34.4,48.2Q103.2,45.9 164.7,46.8" stroke="#c98f1c" stroke-width="0.8" fill="none" stroke-linecap="round"/><path d="M35.7,41.4Q102.6,39.8 163.3,41.3" stroke="#c98f1c" stroke-width="0.8" fill="none" stroke-linecap="round"/><path d="M36,52.7Q97.7,47.4 163.8,42.3" stroke="#c98f1c" stroke-width="0.8" fill="none" stroke-linecap="round"/><path d="M34.6,40.7Q103.5,46.8 165.9,46.2" stroke="#c98f1c" stroke-width="0.8" fill="none" stroke-linecap="round"/><path d="M22.8,86.4Q62.8,78.2 97.2,61.9" stroke="#c98f1c" stroke-width="0.8" fill="none" stroke-linecap="round"/><path d="M20.4,77.5Q60.9,70.1 95.1,62.1" stroke="#c98f1c" stroke-width="0.8" fill="none" stroke-linecap="round"/><path d="M23.3,80.4Q61.2,68.2 96.7,60.5" stroke="#c98f1c" stroke-width="0.8" fill="none" stroke-linecap="round"/><path d="M20,80.8Q56.5,77.3 96.7,65.5" stroke="#c98f1c" stroke-width="0.8" fill="none" stroke-linecap="round"/><path d="M23.1,77.7Q64.4,73.6 97.5,65.9" stroke="#c98f1c" stroke-width="0.8" fill="none" stroke-linecap="round"/><path d="M30.2,115.7Q88.3,99.9 151.9,76.6" stroke="#182468" stroke-width="0.9" fill="none" stroke-linecap="round"/><path d="M30.9,108.7Q90.3,86.3 150.4,71.9" stroke="#182468" stroke-width="0.9" fill="none" stroke-linecap="round"/><path d="M30.8,111.8Q89,97.9 152.7,78" stroke="#182468" stroke-width="0.9" fill="none" stroke-linecap="round"/><path d="M31,111.6Q91.2,92.4 153.1,71.2" stroke="#182468" stroke-width="0.9" fill="none" stroke-linecap="round"/><path d="M29.2,114.9Q92.9,91.6 152.9,74.2" stroke="#182468" stroke-width="0.9" fill="none" stroke-linecap="round"/><path d="M32.8,122Q89.8,95.5 149.7,78" stroke="#182468" stroke-width="0.9" fill="none" stroke-linecap="round"/><path d="M29.4,118.5Q87,94 151.1,75.9" stroke="#182468" stroke-width="0.9" fill="none" stroke-linecap="round"/><path d="M30.1,115.3Q89.9,99.2 152.6,75.2" stroke="#182468" stroke-width="0.9" fill="none" stroke-linecap="round"/><path d="M31.5,118.9Q90,93.4 152.6,75.5" stroke="#5a6cc8" stroke-width="0.8" fill="none" stroke-linecap="round"/><path d="M31.4,118.8Q92.2,99 153,79.4" stroke="#5a6cc8" stroke-width="0.8" fill="none" stroke-linecap="round"/><path d="M32.8,108.9Q92.6,93.5 150.7,76" stroke="#5a6cc8" stroke-width="0.8" fill="none" stroke-linecap="round"/><path d="M29.2,115.2Q86.6,93.1 149.8,74.6" stroke="#5a6cc8" stroke-width="0.8" fill="none" stroke-linecap="round"/><path d="M31.2,113.5Q92,92.5 149.7,75.3" stroke="#5a6cc8" stroke-width="0.8" fill="none" stroke-linecap="round"/><path d="M156,64.8C159.4,55 158.1,54.9 163.2,47.2C168.3,39.5 169.4,40.1 175.2,36C181,31.9 179.3,33.3 184.8,32C190.3,30.7 190.5,31 196,31.2C201.5,31.4 201.3,31.5 205.6,32.8C209.9,34.1 208.2,33.7 212,36C215.8,38.3 216.4,38 220,41.6C223.6,45.2 223.6,44.7 225.6,49.6C227.6,54.5 227.1,54.2 227.6,60C228.1,65.8 227.9,65.2 227.4,71.2C226.8,77.2 227.3,76.9 225.6,82.4C223.9,87.9 223.1,87.3 220.8,92C218.5,96.7 218.1,93.6 216.8,100C215.5,106.4 221.5,109.6 216,116C210.5,122.4 205.2,122.1 196,124C186.8,125.9 188.4,122.8 181.6,123.2C174.8,123.6 176.4,125.4 170.4,125.6C164.4,125.8 164.3,126.1 159.2,124C154.1,121.9 154.4,121.4 151.2,117.6C148,113.8 148.1,114.3 147.2,109.6C146.3,104.9 147.1,106.8 148,100C148.9,93.2 148.3,93.4 150.4,84C152.5,74.6 152.6,74.6 156,64.8Z" fill="#d91f2e"/><path d="M148,100C149.5,98.7 149.4,101 152.8,104.8C156.2,108.6 156.1,109.7 160.8,114.4C165.5,119.1 168.6,119.3 170.4,122.4C172.2,125.5 170.6,125.5 167.6,126C164.6,126.5 163.6,126.4 159.2,124.2C154.8,122 154.4,121.6 151.2,117.8C148,113.9 148.1,114.3 147.2,109.6C146.3,104.9 146.5,101.3 148,100Z" fill="#d91f2e" stroke="#b01422" stroke-width="1.2" stroke-opacity="0.55"/><path d="M150.4,108C153,111.4 154.2,114.4 159.2,119.2C164.2,124 164.8,122.6 167.2,124" stroke="#ee4a50" stroke-width="3" stroke-opacity="0.5" fill="none" stroke-linecap="round"/><path d="M150.2,84C151.8,78.8 153.1,77.8 156,79C158.9,80.3 158.4,83.2 161,88.8C163.6,94.4 162.8,93.6 165.8,100C168.7,106.4 168.7,107.3 172.2,112.8C175.6,118.3 177.7,117.8 178.6,120.8C179.4,123.8 178.2,124.5 175.2,124.2C172.2,123.8 171.9,122.8 167.2,119.4C162.5,115.9 162.1,116.9 157.6,111.4C153.1,105.8 152.2,105.7 150.2,98.4C148.3,91.1 148.7,89.2 150.2,84Z" fill="#f4c64a" stroke="#dba52a" stroke-width="1.2" stroke-opacity="0.55"/><path d="M154.4,88C156.6,92.8 156.3,94.9 161.6,104C166.9,113.1 168.9,114.1 172,118.4" stroke="#fbde80" stroke-width="3" stroke-opacity="0.5" fill="none" stroke-linecap="round"/><path d="M166.4,92C167.3,88.1 168.4,88.5 172,90.2C175.6,91.9 176.1,93.7 180,98.4C183.9,103.1 184.4,102.9 186.6,108C188.7,113.1 189.1,114.1 188.2,117.6C187.3,121.1 186.7,121.8 183.2,121C179.7,120.1 179,118.9 175.2,114.6C171.4,110.3 171.1,110.8 168.8,104.8C166.5,98.8 165.5,95.9 166.4,92Z" fill="#d91f2e" stroke="#b01422" stroke-width="1.2" stroke-opacity="0.55"/><path d="M172,96.8C174.4,100.2 176.2,101.8 180,108C183.8,114.2 183.4,114.7 184.8,117.6" stroke="#ee4a50" stroke-width="3" stroke-opacity="0.5" fill="none" stroke-linecap="round"/><path d="M155.8,64.8C157.2,59.6 157.8,58.4 160.8,56.6C163.8,54.9 163.8,55.2 167.2,58.2C170.6,61.3 169.8,62 173.6,68C177.4,74 177.7,74.4 181.6,80.8C185.5,87.2 186,85.6 188.2,92C190.3,98.4 190.7,100.5 189.8,104.8C188.9,109.1 187.8,110.3 184.8,108.2C181.8,106 182.2,101.5 178.4,96.8C174.6,92.1 174.7,93.3 170.4,90.4C166.1,87.5 166.3,89.6 162.4,85.8C158.5,81.9 157.6,81.6 155.8,76C154.1,70.4 154.5,70 155.8,64.8Z" fill="#2b3c9c" stroke="#1f2c80" stroke-width="1.2" stroke-opacity="0.55"/><path d="M161.6,64.8C164.7,69.6 165,70.2 172,80.8C179,91.4 181,94.2 184.8,100" stroke="#4558b6" stroke-width="3" stroke-opacity="0.5" fill="none" stroke-linecap="round"/><path d="M163.2,47.2C166.5,42.9 168.8,40.5 170.6,42.2C172.3,43.9 171.5,48.8 169.8,53.6C168,58.4 167.1,58.9 164,60.2C160.9,61.4 158.5,61.9 158.2,58.4C158,54.9 159.9,51.5 163.2,47.2Z" fill="#d91f2e" stroke="#b01422" stroke-width="1.2" stroke-opacity="0.55"/><path d="M170.2,44C171.8,40.1 173,38.3 175.2,37.4C177.4,36.6 177.2,36.9 178.6,40.8C179.9,44.7 178.9,45.6 180.2,52C181.4,58.4 181.2,58.4 183.4,64.8C185.5,71.2 187.8,71.7 188.2,76C188.5,80.3 187.4,82.2 184.8,81C182.2,79.7 181.8,76.8 178.4,71.2C175,65.6 174.4,65.1 172,60C169.6,54.9 169.9,56.3 169.4,52C169,47.7 168.7,47.9 170.2,44Z" fill="#f4c64a" stroke="#dba52a" stroke-width="1.2" stroke-opacity="0.55"/><path d="M174.4,44C175.4,48.8 174.5,50.4 177.6,60C180.7,69.6 182.6,71.2 184.8,76" stroke="#fbde80" stroke-width="3" stroke-opacity="0.5" fill="none" stroke-linecap="round"/><path d="M175.2,36C176.9,32.8 179.3,33.3 184.8,32C190.3,30.7 190.5,30.9 196,31C201.5,31.2 201.7,31.3 205.6,32.6C209.5,34 210.1,33.8 210.6,36C211,38.2 209.8,38.8 207.2,41C204.6,43.1 205.1,41.5 200.8,44C196.5,46.5 195.5,46.9 191.2,50.4C186.9,53.9 187.4,57 184.8,57C182.2,57 183.2,53.9 181.4,50.4C179.7,46.9 179.9,47.8 178.2,44C176.6,40.2 173.5,39.2 175.2,36Z" fill="#d91f2e" stroke="#b01422" stroke-width="1.2" stroke-opacity="0.55"/><path d="M181.6,40C185,38.8 185.6,37.2 192.8,36C200,34.8 201.8,36 205.6,36" stroke="#ee4a50" stroke-width="3" stroke-opacity="0.5" fill="none" stroke-linecap="round"/><path d="M202.4,39.2C206.2,36.2 206.1,35.5 210.4,35.8C214.7,36.2 214.5,37.2 218.4,40.6C222.3,44.1 222.6,44.1 225,48.8C227.3,53.5 226.9,53.3 227.4,58.4C227.8,63.5 227.7,63.3 226.6,68C225.5,72.7 225.8,74.7 223.2,76C220.6,77.3 218.9,72.4 216.8,72.8C214.7,73.2 217.3,78.7 215.2,77.6C213.1,76.5 212.6,72.5 208.8,68.8C205,65.1 205.5,65.5 200.8,63.6C196.1,61.7 194.2,64 191.2,61.8C188.2,59.5 188.2,59.1 189.4,55.2C190.7,51.3 192.5,51.5 196,47.2C199.5,42.9 198.6,42.2 202.4,39.2Z" fill="#2b3c9c" stroke="#1f2c80" stroke-width="1.2" stroke-opacity="0.55"/><path d="M196,55.2C199.8,52.6 201.6,47.4 208.8,46.4C216,45.4 215.4,46.5 220,52C224.6,57.5 222.8,61 224,64.8" stroke="#4558b6" stroke-width="3" stroke-opacity="0.5" fill="none" stroke-linecap="round"/><path d="M216.8,55.2C217.7,53.9 220.5,57.8 223.4,61.6C226.2,65.4 226.5,64.4 227.4,69.6C228.2,74.8 228.1,75.4 226.6,81C225,86.5 223.8,89.7 221.6,90.6C219.4,91.4 218.2,87.9 218.2,84C218.2,80.1 221.1,80.7 221.6,76C222.1,71.3 221.3,71.9 220,66.4C218.7,60.9 215.9,56.5 216.8,55.2Z" fill="#f4c64a" stroke="#dba52a" stroke-width="1.2" stroke-opacity="0.55"/><path d="M192,106.4C193.3,101.2 194.6,102.5 197.8,104.6C201,106.8 200.6,108.4 204,114.4C207.4,120.4 207.6,120.4 210.6,127.2C213.5,134 219.1,136.6 215.2,140C211.3,143.4 202,144.3 196,140C190,135.7 193.9,133 192.8,124C191.7,115 190.7,111.6 192,106.4Z" fill="#2b3c9c" stroke="#1f2c80" stroke-width="1.2" stroke-opacity="0.55"/><path d="M189.4,76C191.6,74.7 193.3,77.2 197.6,80.6C201.9,84.1 201.8,84.1 205.6,88.8C209.4,93.5 209.2,93.3 212,98.4C214.8,103.5 214.8,102.2 216.2,108C217.5,113.8 216.3,113.6 217,120C217.6,126.4 219.9,129.8 218.6,132C217.2,134.2 215,132.4 212,128.2C209,123.9 210.2,122.4 207.2,116C204.2,109.6 204.2,109.3 200.8,104C197.4,98.7 197.4,100.9 194.4,96C191.4,91.1 190.8,90.9 189.4,85.6C188.1,80.3 187.3,77.3 189.4,76Z" fill="#d91f2e" stroke="#b01422" stroke-width="1.2" stroke-opacity="0.55"/><path d="M194.4,84C198.2,88.8 201.4,89.2 207.2,100C213,110.8 211.7,114 213.6,120" stroke="#ee4a50" stroke-width="3" stroke-opacity="0.5" fill="none" stroke-linecap="round"/><path d="M186.2,63.2C188.2,61.5 188.5,60.2 192.8,61.4C197.1,62.7 197.3,63.3 202.4,68C207.5,72.7 208.1,72.8 212,79.2C215.9,85.6 215.9,85.6 217,92C218.1,98.4 217.5,102.1 216.2,103.4C214.8,104.6 214.8,101.1 212,96.8C209.2,92.5 209.4,91.9 205.6,87.2C201.8,82.5 201.9,82.7 197.6,79.4C193.3,76 192.8,77.6 189.6,74.6C186.4,71.5 186.3,71 185.4,68C184.5,65 184.3,64.9 186.2,63.2Z" fill="#f4c64a" stroke="#dba52a" stroke-width="1.2" stroke-opacity="0.55"/><path d="M191.2,66.4C195,69.3 197.3,68.3 204,76C210.7,83.7 210.7,87.2 213.6,92" stroke="#fbde80" stroke-width="3" stroke-opacity="0.5" fill="none" stroke-linecap="round"/><path d="M190.4,106C188.4,111.8 189,111 189,118C189,125 190.7,124.7 190.4,132.4C190.1,140.1 189.3,139.1 188,146.8C186.7,154.5 187.2,154.2 185.6,161.2C184,168.2 183.9,166.2 182,173.2C180.1,180.2 179.6,179.9 178.4,187.6C177.2,195.3 177.2,195 177.6,202C177.9,209 177.8,207.9 179.6,214C181.4,220.1 182.6,218.4 184.2,224.8C185.7,231.2 182.7,232.8 185.4,238C188,243.2 188.2,242.3 194,244.2C199.8,246.2 201.3,246.5 207.2,245.4C213.2,244.4 212.4,245.3 216.3,240.4C220.2,235.5 219.4,232.6 221.8,227.2C224.3,221.8 224.2,225.1 225.4,220C226.7,214.9 227,216 226.6,208C226.3,200 224.7,198 224.2,190C223.8,182 225.2,185.7 224.8,178C224.5,170.3 224.5,170.8 223,161.2C221.6,151.6 220.2,151 219.4,142C218.6,133 220.5,137.8 220,127.6C219.6,117.4 221.1,112.6 217.6,103.6C214.2,94.6 212.9,95.9 207.2,94C201.5,92.1 200.9,93.2 196.4,96.4C191.9,99.6 192.4,100.2 190.4,106Z" fill="#d91f2e"/><path d="M185.6,224.8C188.2,224.8 188.2,227.6 194,230.8C199.8,234 201,235.7 207.2,236.8C213.4,237.9 215,233.9 217.4,235C219.8,236.1 219,238.2 216.3,241C213.6,243.8 213.2,244.6 207.2,245.4C201.3,246.3 199.6,246.1 194,244.2C188.4,242.4 188.8,242.2 186.2,238.6C183.6,235 184.3,234.5 184.2,230.8C184,227.1 183,224.8 185.6,224.8Z" fill="#f4c64a" stroke="#dba52a" stroke-width="1.2" stroke-opacity="0.55"/><path d="M188,235.6C191.6,237.2 192.8,239.6 200,241C207.2,242.4 208.4,240.6 212,240.4" stroke="#fbde80" stroke-width="3" stroke-opacity="0.5" fill="none" stroke-linecap="round"/><path d="M179.6,187.6C181.2,184.6 181.2,182 183.4,184.6C185.7,187.2 184.5,189.7 188,197.2C191.5,204.7 191.9,206.1 196.4,212.8C200.9,219.5 199.2,218.2 204.8,222.4C210.4,226.6 213.9,225.1 217.4,228.4C220.9,231.7 220.7,232.3 218,234.6C215.3,237 213.6,238 207.2,237C200.8,236.1 200.1,234.8 194,231C187.9,227.3 188.6,229.2 184.4,223C180.2,216.9 180,215.2 178.2,208C176.3,200.8 177.2,201.4 177.6,196C177.9,190.6 178,190.6 179.6,187.6Z" fill="#2b3c9c" stroke="#1f2c80" stroke-width="1.2" stroke-opacity="0.55"/><path d="M181.4,197.2C184.1,203.3 182.7,207.5 190.4,217.6C198.1,227.7 202.2,226.8 207.2,230.8" stroke="#4558b6" stroke-width="3" stroke-opacity="0.5" fill="none" stroke-linecap="round"/><path d="M185.6,161.2C187.5,157.6 186.9,156.3 189.4,158.6C192,160.8 192.4,162.8 195.2,169.6C198,176.4 197.4,176 200,184C202.6,192 202.4,191.6 204.8,199.6C207.2,207.6 208.8,208.2 209,214C209.2,219.8 208.8,221.9 205.4,221.4C202,221 201,218.8 196.4,212.2C191.8,205.6 191.6,204.1 188,196.6C184.4,189.1 184.5,190.6 183,184C181.4,177.4 181.5,178.1 182.2,172C182.9,165.9 183.7,164.8 185.6,161.2Z" fill="#d91f2e" stroke="#b01422" stroke-width="1.2" stroke-opacity="0.55"/><path d="M187.4,172C189.7,178.5 190.3,181.4 195.2,193.6C200.1,205.8 201.1,207 203.6,212.8" stroke="#ee4a50" stroke-width="3" stroke-opacity="0.5" fill="none" stroke-linecap="round"/><path d="M207.2,180.4C207.5,175.1 209.1,175.5 212,177.4C214.9,179.3 214.7,181 218,187.6C221.3,194.2 222,195 224.2,202C226.5,209 226.5,208.8 226.4,214C226.3,219.2 226.6,221.9 224,221.4C221.4,221 220.3,218.7 216.8,212.2C213.3,205.7 213.4,205.7 210.8,197.2C208.2,188.7 206.9,185.7 207.2,180.4Z" fill="#d91f2e" stroke="#b01422" stroke-width="1.2" stroke-opacity="0.55"/><path d="M213.2,187.6C215.4,192.6 217.2,195.8 220.4,204.4C223.6,213 222.9,212.8 224,216.4" stroke="#ee4a50" stroke-width="3" stroke-opacity="0.5" fill="none" stroke-linecap="round"/><path d="M204.8,199.4C204.4,194 206.2,193.1 209.4,197C212.6,200.9 213.1,206.5 216.8,214C220.5,221.5 222.5,221.5 223.3,225C224.1,228.6 223,229.6 219.7,227.4C216.4,225.3 214.8,224.5 210.8,217C206.8,209.5 205.2,204.7 204.8,199.4Z" fill="#f4c64a" stroke="#dba52a" stroke-width="1.2" stroke-opacity="0.55"/><path d="M190.2,134.8C192.5,133.5 192.5,132.5 196.4,137C200.3,141.4 201,143.9 204.8,151.6C208.6,159.3 208.8,159 210.8,166C212.8,173 212.8,172.4 212.2,178C211.7,183.6 210.9,181.9 208.6,187C206.3,192.1 206.2,199.4 203.6,197.2C201,195 201.4,187.6 198.8,178.6C196.2,169.6 196.9,170.2 194,163.6C191.1,157 189.4,159.8 187.8,154C186.1,148.2 187.1,147.1 187.8,142C188.4,136.9 187.9,136.1 190.2,134.8Z" fill="#f4c64a" stroke="#dba52a" stroke-width="1.2" stroke-opacity="0.55"/><path d="M192.8,146.8C195.3,152.6 197.2,154.5 201.2,166C205.2,177.5 204.6,179.4 206,185.2" stroke="#fbde80" stroke-width="3" stroke-opacity="0.5" fill="none" stroke-linecap="round"/><path d="M191.1,108.4C192.9,102.9 192.8,103.4 196.4,107C200.1,110.5 200,112.9 204.8,121.6C209.6,130.3 209.9,129.7 214.4,139.6C218.9,149.5 219.1,149.2 221.8,158.8C224.6,168.4 224.1,168.1 224.6,175.6C225.1,183.1 225.7,186.2 223.6,187C221.6,187.8 219.9,184.8 216.8,178.6C213.7,172.4 215.2,172.1 212,163.6C208.8,155.1 209,154.5 204.8,146.8C200.6,139.1 200.4,139.9 196.4,134.8C192.4,129.7 191.1,134.6 189.7,127.6C188.3,120.6 189.3,113.9 191.1,108.4Z" fill="#2b3c9c" stroke="#1f2c80" stroke-width="1.2" stroke-opacity="0.55"/><path d="M195.2,118C199.2,125.2 201.2,126.9 208.4,142C215.6,157.1 216,160.5 219.2,168.4" stroke="#4558b6" stroke-width="3" stroke-opacity="0.5" fill="none" stroke-linecap="round"/><path d="M189,79.6C191,76.7 191.5,76.7 196.4,80.6C201.3,84.4 202.3,86.3 207.2,94C212.1,101.7 211.2,100.6 214.6,109.6C218.1,118.6 218.8,118 220,127.6C221.3,137.2 221.3,143 219.2,145.6C217.1,148.2 216.5,144.8 212,137.4C207.5,130.1 207.5,126.4 202.4,118C197.3,109.6 196.5,113 192.8,106C189.2,99 189.7,98.6 188.7,91.6C187.7,84.6 186.9,82.5 189,79.6Z" fill="#d91f2e" stroke="#b01422" stroke-width="1.2" stroke-opacity="0.55"/><path d="M194,89.2C198,95.7 200.4,97.1 207.2,110.8C214,124.5 213.9,127.6 216.8,134.8" stroke="#ee4a50" stroke-width="3" stroke-opacity="0.5" fill="none" stroke-linecap="round"/><path d="M186.6,70C191,68.1 199.7,66.2 207.2,70C214.7,73.8 211.8,75.3 214.6,84.4C217.5,93.5 218.3,98.3 217.8,104.2C217.2,110.1 216.6,110.9 212.5,106.6C208.4,102.3 208.3,95.8 202.4,88C196.5,80.2 194.6,82 190.4,77.2C186.2,72.4 182.1,71.9 186.6,70Z" fill="#f4c64a" stroke="#dba52a" stroke-width="1.2" stroke-opacity="0.55"/><path d="M196.4,73.6C200,77.6 203,78.2 208.4,86.8C213.8,95.4 212.6,97.7 214.4,102.4" stroke="#fbde80" stroke-width="3" stroke-opacity="0.5" fill="none" stroke-linecap="round"/></g>
<path d="M188.6,241.2C190.2,244.6 190.7,246.1 193.8,252.6C196.9,259.1 197,257 199,263C201,269 200,265.8 200.4,272.7C200.8,279.6 200.5,282 200.5,286" stroke="#c9cad2" stroke-width="2.4" fill="none" stroke-linecap="round"/><path d="M188.6,241.2C190.2,244.6 190.7,246.1 193.8,252.6C196.9,259.1 197,257 199,263C201,269 200,265.8 200.4,272.7C200.8,279.6 200.5,282 200.5,286" stroke="#6e6f78" stroke-width="1.1" fill="none" stroke-linecap="round"/><path d="M217.5,233.3C219.3,235.9 221.2,236.2 223.6,242C226,247.8 226.5,246.8 225.4,252.6C224.3,258.4 226.8,255.3 220,261.3C213.2,267.3 207.8,269.3 202.6,272.7" stroke="#c9cad2" stroke-width="2.4" fill="none" stroke-linecap="round"/><path d="M217.5,233.3C219.3,235.9 221.2,236.2 223.6,242C226,247.8 226.5,246.8 225.4,252.6C224.3,258.4 226.8,255.3 220,261.3C213.2,267.3 207.8,269.3 202.6,272.7" stroke="#6e6f78" stroke-width="1.1" fill="none" stroke-linecap="round"/>
<path d="M200.5,285 L200.6,305" stroke="#c9cad2" stroke-width="2.4"/><path d="M200.5,285 L200.6,305" stroke="#6e6f78" stroke-width="1.1"/>
<g transform="translate(224.5,1340) scale(1)"><path d="M-10,66 L6,66 L6,73 Q1,82 -6,76Z" fill="#e9e2a4"/><path d="M-3,68 L4,68 L3,74 Q0,78 -2,74Z" fill="#cfc478"/><path d="M-20,4 L-18,-9 Q-16,-15 -10,-15.5 L15,-15.5 Q21,-15 21,-8 L22,4Z" fill="url(#tabG)"/><path d="M-19,3 L-17.5,-6 Q-8,-4.5 2,-1.5 L8,3Z" fill="#ceb63c"/><path d="M-17.6,-6 L-16,-11 Q-10,-7 -4,-5.5Z" fill="#8f7d22"/><circle cx="0.5" cy="-11" r="6.3" fill="#f6f4ee"/><path d="M-24,2.5 Q0,-3 25.5,1.5 C27,8 30,19 33,26 C37,35 42,44 47,51.5 Q50,57 43,62.5 Q22,69.5 0,70 Q-24,69.5 -42,63.5 Q-50,58 -47.5,53.5 C-42,45 -35,35 -31.3,25.7 C-28.5,19 -26,9 -24,2.5Z" fill="url(#bellG)"/><g clip-path="url(#bc8)"><path d="M-14,5 Q0,3 15,5 L16.5,50 Q0,56 -16.5,50Z" fill="url(#bellD)"/><path d="M-4.5,8 L-1.5,8 L-1,46 L-5,46Z" fill="#b9a53a" opacity="0.55"/><path d="M5,8 L8,8 L9,44 L6,44Z" fill="#2e2a08" opacity="0.45"/><path d="M-23,6 Q-19,5 -17,6 L-21,46 Q-27,50 -34,52 Q-26,30 -23,6Z" fill="#fbf2a2" opacity="0.75"/><path d="M19,6 L23,6 Q27,30 38,48 L27,50 Q21,30 19,6Z" fill="#f7e77a" opacity="0.45"/><path d="M-9,52 Q0,55 13,52 L27,60 Q0,66 -24,61Z" fill="#f3ecb8" opacity="0.85"/><ellipse cx="-0.5" cy="43.5" rx="3.4" ry="5" fill="#d9cf6e"/><path d="M-49,54 Q0,69 49,53 L50,64 Q0,80 -50,65Z" fill="url(#rimG)" opacity="0.9"/><path d="M-46,60.5 Q0,74 46,59.5 L44,63 Q0,71.5 -43,64Z" fill="#bf8a14" opacity="0.75"/></g><path d="M-24,2.5 Q0,-3 25.5,1.5 Q0,7 -24,2.5Z" fill="#e9cf4a" opacity="0.9"/></g>
<path d="M140,1234C145,1221.5 147,1226.5 158,1220C169,1213.5 168,1211.8 184,1208C200,1204.2 204,1203 222,1205C240,1207 242.5,1211.8 256,1216C269.5,1220.2 267,1217 276,1222C285,1227 286.8,1229 292,1236C297.2,1243 295.5,1240 297,1250C298.5,1260 298,1263 298,1276C298,1289 300,1293.5 297,1302C294,1310.5 295.2,1306.5 286,1310C276.8,1313.5 269.5,1312 260,1316C250.5,1320 258,1323 248,1326C238,1329 233.5,1328.5 220,1328C206.5,1327.5 203,1327 194,1324C185,1321 192.5,1318.5 184,1316C175.5,1313.5 171,1317 160,1314C149,1311 145.5,1315 140,1304C134.5,1293 138,1287.5 138,1270C138,1252.5 135,1246.5 140,1234Z" fill="url(#sideG)" filter="url(#pum)"/><g clip-path="url(#c9)"><path d="M130,1240C134,1232.5 139.6,1225.9 154,1216C168.4,1206.1 165.3,1207.3 184,1203C202.7,1198.7 204.3,1197.6 224,1200C243.7,1202.4 243.1,1207.2 258,1212C272.9,1216.8 269.3,1212.1 280,1218C290.7,1223.9 291.3,1224.4 298,1234C304.7,1243.6 305.3,1248.9 305,1254C304.7,1259.1 304.2,1256.5 297,1253C289.8,1249.5 289.5,1242.1 278,1241C266.5,1239.9 268.9,1244.7 254,1249C239.1,1253.3 239.1,1257 222,1257C204.9,1257 205.2,1253.3 190,1249C174.8,1244.7 178.6,1242.3 165,1241C151.4,1239.7 148.3,1244.3 139,1244C129.7,1243.7 126,1247.5 130,1240Z" fill="#77747c" opacity="0.18" transform="translate(0,3)"/><path d="M130,1240C134,1232.5 139.6,1225.9 154,1216C168.4,1206.1 165.3,1207.3 184,1203C202.7,1198.7 204.3,1197.6 224,1200C243.7,1202.4 243.1,1207.2 258,1212C272.9,1216.8 269.3,1212.1 280,1218C290.7,1223.9 291.3,1224.4 298,1234C304.7,1243.6 305.3,1248.9 305,1254C304.7,1259.1 304.2,1256.5 297,1253C289.8,1249.5 289.5,1242.1 278,1241C266.5,1239.9 268.9,1244.7 254,1249C239.1,1253.3 239.1,1257 222,1257C204.9,1257 205.2,1253.3 190,1249C174.8,1244.7 178.6,1242.3 165,1241C151.4,1239.7 148.3,1244.3 139,1244C129.7,1243.7 126,1247.5 130,1240Z" fill="#ffffff" filter="url(#pumT)"/></g>
<ellipse cx="223" cy="1210" rx="32" ry="29" fill="url(#bg7)"/>
<path d="M147,1110C152,1099 155.2,1101.2 166,1096C176.8,1090.8 175.2,1091 190,1089C204.8,1087 207.5,1086.2 225,1088C242.5,1089.8 246.2,1093 260,1096C273.8,1099 270.5,1095 280,1100C289.5,1105 293,1104.8 298,1116C303,1127.2 299.5,1131 300,1145C300.5,1159 302,1163.8 300,1172C298,1180.2 299.5,1176 292,1178C284.5,1180 281,1177.5 270,1180C259,1182.5 259.5,1185.2 248,1188C236.5,1190.8 236,1191 224,1191C212,1191 209.5,1191.2 200,1188C190.5,1184.8 196,1181.5 186,1178C176,1174.5 169.5,1176.5 160,1174C150.5,1171.5 151.5,1176.5 148,1168C144.5,1159.5 146.2,1154.5 146,1140C145.8,1125.5 142,1121 147,1110Z" fill="url(#sideG)" filter="url(#pum)"/><g clip-path="url(#c10)"><path d="M138,1114C142.3,1106.5 148.1,1100 162,1092C175.9,1084 172.9,1086.4 190,1084C207.1,1081.6 206.8,1080.9 226,1083C245.2,1085.1 246.5,1088.3 262,1092C277.5,1095.7 272.3,1090.1 284,1097C295.7,1103.9 301.7,1110.8 306,1118C310.3,1125.2 308,1123.2 300,1124C292,1124.8 289.3,1119.7 276,1121C262.7,1122.3 263.9,1125.3 250,1129C236.1,1132.7 238.4,1134.5 224,1135C209.6,1135.5 210.4,1134.2 196,1131C181.6,1127.8 183.3,1125.9 170,1123C156.7,1120.1 154.5,1122.4 146,1120C137.5,1117.6 133.7,1121.5 138,1114Z" fill="#77747c" opacity="0.18" transform="translate(0,3)"/><path d="M138,1114C142.3,1106.5 148.1,1100 162,1092C175.9,1084 172.9,1086.4 190,1084C207.1,1081.6 206.8,1080.9 226,1083C245.2,1085.1 246.5,1088.3 262,1092C277.5,1095.7 272.3,1090.1 284,1097C295.7,1103.9 301.7,1110.8 306,1118C310.3,1125.2 308,1123.2 300,1124C292,1124.8 289.3,1119.7 276,1121C262.7,1122.3 263.9,1125.3 250,1129C236.1,1132.7 238.4,1134.5 224,1135C209.6,1135.5 210.4,1134.2 196,1131C181.6,1127.8 183.3,1125.9 170,1123C156.7,1120.1 154.5,1122.4 146,1120C137.5,1117.6 133.7,1121.5 138,1114Z" fill="#ffffff" filter="url(#pumT)"/></g>
<ellipse cx="224" cy="1080" rx="34" ry="30" fill="url(#bg6)"/>
<path d="M136,990C143.8,976.5 153,973.5 166,966C179,958.5 174.5,961 188,960C201.5,959 204,959.5 220,962C236,964.5 237,966.5 252,970C267,973.5 269.5,971 280,976C290.5,981 290,979 294,990C298,1001 295.8,1005.5 296,1020C296.2,1034.5 297,1040 295,1048C293,1056 296.8,1050 288,1052C279.2,1054 272,1052 260,1056C248,1060 252,1064.5 240,1068C228,1071.5 223.5,1070.5 212,1070C200.5,1069.5 202,1069.5 194,1066C186,1062.5 191,1059 180,1056C169,1053 160.8,1056 150,1054C139.2,1052 140.8,1056.5 137,1048C133.2,1039.5 135.2,1034.5 135,1020C134.8,1005.5 128.2,1003.5 136,990Z" fill="url(#sideG)" filter="url(#pum)"/><g clip-path="url(#c11)"><path d="M128,994C134.7,983.9 144,972.4 160,962C176,951.6 171.5,956.1 188,955C204.5,953.9 204.1,955.1 222,958C239.9,960.9 238.5,961.7 255,966C271.5,970.3 271.5,967.1 284,974C296.5,980.9 299.1,985.1 302,992C304.9,998.9 304.1,998.7 295,1000C285.9,1001.3 282.7,995.7 268,997C253.3,998.3 254.9,1001.8 240,1005C225.1,1008.2 226.7,1009 212,1009C197.3,1009 198.9,1007.1 185,1005C171.1,1002.9 173.3,1002.3 160,1001C146.7,999.7 143.5,1001.9 135,1000C126.5,998.1 121.3,1004.1 128,994Z" fill="#77747c" opacity="0.18" transform="translate(0,3)"/><path d="M128,994C134.7,983.9 144,972.4 160,962C176,951.6 171.5,956.1 188,955C204.5,953.9 204.1,955.1 222,958C239.9,960.9 238.5,961.7 255,966C271.5,970.3 271.5,967.1 284,974C296.5,980.9 299.1,985.1 302,992C304.9,998.9 304.1,998.7 295,1000C285.9,1001.3 282.7,995.7 268,997C253.3,998.3 254.9,1001.8 240,1005C225.1,1008.2 226.7,1009 212,1009C197.3,1009 198.9,1007.1 185,1005C171.1,1002.9 173.3,1002.3 160,1001C146.7,999.7 143.5,1001.9 135,1000C126.5,998.1 121.3,1004.1 128,994Z" fill="#ffffff" filter="url(#pumT)"/></g>
<ellipse cx="217.5" cy="950" rx="32.5" ry="29" fill="url(#bg5)"/>
<path d="M140,860C145.2,850 148.5,854.2 160,850C171.5,845.8 171,845.2 186,843C201,840.8 203.5,840.2 220,841C236.5,841.8 237,844.2 252,846C267,847.8 268.5,845 280,848C291.5,851 293,848.8 298,858C303,867.2 299.8,871 300,885C300.2,899 301,905.2 299,914C297,922.8 301.8,918 292,920C282.2,922 273,919.5 260,922C247,924.5 252,927 240,930C228,933 227,934 212,934C197,934 196.5,931.5 180,930C163.5,928.5 156,930.5 146,928C136,925.5 141.8,929.5 140,920C138.2,910.5 139,905 139,890C139,875 134.8,870 140,860Z" fill="url(#sideG)" filter="url(#pum)"/><g clip-path="url(#c12)"><path d="M132,864C134.9,858.9 135.6,856.4 150,850C164.4,843.6 167.3,843.2 186,840C204.7,836.8 202.4,837.2 220,838C237.6,838.8 234.7,840.9 252,843C269.3,845.1 270.9,841.5 285,846C299.1,850.5 301.3,854.1 305,860C308.7,865.9 308.3,866.7 299,868C289.7,869.3 285.7,867.4 270,865C254.3,862.6 255.5,861.1 240,859C224.5,856.9 226.4,856.5 212,857C197.6,857.5 199.9,858.3 186,861C172.1,863.7 172.5,864.9 160,867C147.5,869.1 146.5,869.8 139,869C131.5,868.2 129.1,869.1 132,864Z" fill="#77747c" opacity="0.18" transform="translate(0,3)"/><path d="M132,864C134.9,858.9 135.6,856.4 150,850C164.4,843.6 167.3,843.2 186,840C204.7,836.8 202.4,837.2 220,838C237.6,838.8 234.7,840.9 252,843C269.3,845.1 270.9,841.5 285,846C299.1,850.5 301.3,854.1 305,860C308.7,865.9 308.3,866.7 299,868C289.7,869.3 285.7,867.4 270,865C254.3,862.6 255.5,861.1 240,859C224.5,856.9 226.4,856.5 212,857C197.6,857.5 199.9,858.3 186,861C172.1,863.7 172.5,864.9 160,867C147.5,869.1 146.5,869.8 139,869C131.5,868.2 129.1,869.1 132,864Z" fill="#ffffff" filter="url(#pumT)"/></g>
<ellipse cx="218" cy="821" rx="34" ry="30" fill="url(#bg4)"/>
<path d="M127,316Q127,309 134,308.5Q211,297 288,308.5Q295,309 295,316L294,384.5Q294,391.5 287,391.5Q211,390.5 135,391.5Q128,391.5 128,384.5Z" fill="url(#stoneG)" filter="url(#pum)"/><path d="M127,387.5Q211,380.5 295,387.5L295,393.5L127,393.5Z" fill="#f5f4f6" opacity="0.88" clip-path="url(#c13)"/>
<g clip-path="url(#bf14)"><ellipse cx="205.4" cy="414" rx="34.4" ry="30" fill="url(#bg1)"/></g>
<path d="M136,453.5Q136,446.5 143,446Q215,436.5 287,446Q294,446.5 294,453.5L293,521Q293,528 286,528Q215,526 144,528Q137,528 137,521Z" fill="url(#stoneG)" filter="url(#pum)"/><path d="M136,525Q215,519 294,525L294,530L136,530Z" fill="#f5f4f6" opacity="0.88" clip-path="url(#c15)"/>
<g clip-path="url(#bf16)"><ellipse cx="205" cy="552.4" rx="33.2" ry="31.5" fill="url(#bg2)"/></g>
<path d="M130,593Q130,586 137,585.5Q213.5,580 290,585.5Q297,586 297,593L296,659.5Q296,666.5 289,666.5Q213.5,665.5 138,666.5Q131,666.5 131,659.5Z" fill="url(#stoneG)" filter="url(#pum)"/><path d="M130,664.5Q213.5,661.5 297,664.5L297,668.5L130,668.5Z" fill="#f5f4f6" opacity="0.88" clip-path="url(#c17)"/>
<g clip-path="url(#bf18)"><ellipse cx="214.5" cy="690" rx="34.5" ry="30" fill="url(#bg3)"/></g>
<path d="M136,722.5Q136,715.5 143,715Q216.5,712.5 290,715Q297,715.5 297,722.5L296,791Q296,798 289,798Q216.5,798 144,798Q137,798 137,791Z" fill="url(#stoneG)" filter="url(#pum)"/>
<path d="M870,168.8L868.4,171.8L866.8,174.7L865,177.6L863.2,180.4L861.4,183.1L859.5,185.8L857.6,188.4L855.8,190.9L854,193.4L852.2,195.9L850.4,198.3L848.8,200.6L847.3,203L845.9,205.4L844.7,207.8L843.6,210.3L842.7,212.8L841.9,215.4L841.4,218L840.9,220.7L840.6,223.5L840.4,226.4L840.2,229.4L840.1,232.5L840,235.6L839.9,238.8L839.8,242.1L839.6,245.4L839.4,248.8L839.1,252.2L838.7,255.6L838.2,259L837.6,262.5L836.9,265.9L836,269.2L835,272.6L833.8,275.8L832.5,279L831,282.1L829.3,285.1L827.5,288L825.5,290.7L823.4,293.3L821.1,295.7L818.6,297.9L816,300L813.3,301.9L810.5,303.6L807.5,305.1L804.4,306.4L801.2,307.5L798,308.4L794.7,309L791.3,309.5L787.9,309.8L784.4,309.9L781,309.8L777.5,309.6L774.1,309.2L770.6,308.6L767.2,307.9L763.8,307.2L760.5,306.3L757.2,305.3L754,304.2L750.8,303.2L747.7,302.1L744.7,300.9L741.7,299.8L738.8,298.8L736,297.8L733.2,296.9L730.5,296.1L727.7,295.4L725.1,294.9L722.4,294.6L719.7,294.5L717.1,294.5L714.4,294.7L711.6,295.1L708.9,295.6L706.1,296.2L703.2,296.9L700.3,297.7L697.3,298.5L694.2,299.3L691.1,300.1L687.9,300.9L684.7,301.6L681.4,302.3L678.1,302.9L674.8,303.4L671.4,303.8L668,304.1L664.6,304.2L661.1,304.2L657.7,304.1L654.4,303.7L651,303.2L647.7,302.6L644.5,301.7L641.4,300.6L638.3,299.4L635.3,297.9L632.5,296.3L629.7,294.5L627.1,292.5L624.6,290.4L622.3,288.1L620.1,285.6L618.1,283L616.2,280.3L614.4,277.4L612.8,274.5L611.4,271.5L610.1,268.4L609,265.2L608,262L607.2,258.7L606.5,255.4L605.9,252.1L605.4,248.7L605,245.4L604.7,242.1L604.5,238.8L604.3,235.6L604.2,232.4L604.1,229.2L604,226.1L603.9,223.1L603.8,220.1L603.7,217.2L603.5,214.3L603.1,211.5L602.7,208.8L602.2,206.1L601.5,203.5L600.7,200.9L599.7,198.3L598.6,195.8L597.5,193.2L596.2,190.7L594.9,188.1L593.5,185.5L592.1,182.8L590.7,180.1L589.2,177.4L587.8,174.6L586.5,171.7L585.2,168.8L583.9,165.9L582.7,162.9L581.6,159.8L580.6,156.7L579.7,153.6L578.9,150.4L578.3,147.2L577.8,144L577.5,140.7L577.3,137.5L577.3,134.3L577.5,131L577.8,127.8L578.3,124.7L579,121.5L579.9,118.5L581.1,115.5L582.4,112.6L583.9,109.7L585.6,107L587.6,104.4L589.7,102L592,99.7L594.5,97.5L597.2,95.4L600,93.6L602.9,91.8L606,90.2L609.1,88.8L612.3,87.4L615.5,86.3L618.8,85.2L622.1,84.3L625.4,83.4L628.7,82.7L631.9,82L635.1,81.3L638.2,80.8L641.3,80.2L644.2,79.6L647.1,79L649.8,78.4L652.4,77.6L654.9,76.8L657.2,75.8L659.4,74.6L661.4,73.3L663.4,71.8L665.2,70.1L667,68.2L668.6,66.2L670.3,63.9L671.9,61.6L673.6,59.1L675.2,56.6L676.9,54L678.7,51.3L680.5,48.6L682.4,45.9L684.4,43.2L686.5,40.6L688.7,38L691,35.4L693.4,33L695.8,30.6L698.4,28.4L701.1,26.3L703.8,24.4L706.7,22.7L709.6,21.1L712.6,19.8L715.7,18.7L718.8,17.8L721.9,17.1L725,16.7L728.2,16.5L731.4,16.6L734.5,16.9L737.7,17.4L740.8,18.2L743.8,19.1L746.8,20.3L749.8,21.7L752.6,23.3L755.4,25.1L758.1,27.1L760.7,29.2L763.2,31.4L765.6,33.7L767.9,36.2L770.1,38.8L772.2,41.4L774.2,44.1L776.1,46.8L777.9,49.5L779.7,52.2L781.4,54.9L783,57.5L784.6,60.1L786.2,62.6L787.7,65L789.3,67.4L790.9,69.5L792.6,71.6L794.3,73.4L796.2,75.2L798.2,76.7L800.3,78.1L802.6,79.3L805,80.4L807.5,81.4L810.2,82.3L813,83.1L815.9,83.9L818.9,84.8L822,85.6L825.2,86.5L828.4,87.4L831.6,88.4L834.9,89.5L838.1,90.7L841.4,92L844.6,93.4L847.7,95L850.8,96.6L853.8,98.5L856.7,100.4L859.4,102.5L862,104.7L864.5,107.1L866.7,109.6L868.8,112.2L870.6,114.9L872.2,117.8L873.7,120.7L874.8,123.8L875.8,126.9L876.6,130.1L877.1,133.3L877.4,136.5L877.5,139.8L877.3,143.1L877,146.4L876.5,149.7L875.8,153L875,156.2L873.9,159.4L872.7,162.6L871.4,165.7Z" fill="#d3c3c7" transform="translate(0.5,7)"/>
<path d="M870,168.8L868.4,171.8L866.8,174.7L865,177.6L863.2,180.4L861.4,183.1L859.5,185.8L857.6,188.4L855.8,190.9L854,193.4L852.2,195.9L850.4,198.3L848.8,200.6L847.3,203L845.9,205.4L844.7,207.8L843.6,210.3L842.7,212.8L841.9,215.4L841.4,218L840.9,220.7L840.6,223.5L840.4,226.4L840.2,229.4L840.1,232.5L840,235.6L839.9,238.8L839.8,242.1L839.6,245.4L839.4,248.8L839.1,252.2L838.7,255.6L838.2,259L837.6,262.5L836.9,265.9L836,269.2L835,272.6L833.8,275.8L832.5,279L831,282.1L829.3,285.1L827.5,288L825.5,290.7L823.4,293.3L821.1,295.7L818.6,297.9L816,300L813.3,301.9L810.5,303.6L807.5,305.1L804.4,306.4L801.2,307.5L798,308.4L794.7,309L791.3,309.5L787.9,309.8L784.4,309.9L781,309.8L777.5,309.6L774.1,309.2L770.6,308.6L767.2,307.9L763.8,307.2L760.5,306.3L757.2,305.3L754,304.2L750.8,303.2L747.7,302.1L744.7,300.9L741.7,299.8L738.8,298.8L736,297.8L733.2,296.9L730.5,296.1L727.7,295.4L725.1,294.9L722.4,294.6L719.7,294.5L717.1,294.5L714.4,294.7L711.6,295.1L708.9,295.6L706.1,296.2L703.2,296.9L700.3,297.7L697.3,298.5L694.2,299.3L691.1,300.1L687.9,300.9L684.7,301.6L681.4,302.3L678.1,302.9L674.8,303.4L671.4,303.8L668,304.1L664.6,304.2L661.1,304.2L657.7,304.1L654.4,303.7L651,303.2L647.7,302.6L644.5,301.7L641.4,300.6L638.3,299.4L635.3,297.9L632.5,296.3L629.7,294.5L627.1,292.5L624.6,290.4L622.3,288.1L620.1,285.6L618.1,283L616.2,280.3L614.4,277.4L612.8,274.5L611.4,271.5L610.1,268.4L609,265.2L608,262L607.2,258.7L606.5,255.4L605.9,252.1L605.4,248.7L605,245.4L604.7,242.1L604.5,238.8L604.3,235.6L604.2,232.4L604.1,229.2L604,226.1L603.9,223.1L603.8,220.1L603.7,217.2L603.5,214.3L603.1,211.5L602.7,208.8L602.2,206.1L601.5,203.5L600.7,200.9L599.7,198.3L598.6,195.8L597.5,193.2L596.2,190.7L594.9,188.1L593.5,185.5L592.1,182.8L590.7,180.1L589.2,177.4L587.8,174.6L586.5,171.7L585.2,168.8L583.9,165.9L582.7,162.9L581.6,159.8L580.6,156.7L579.7,153.6L578.9,150.4L578.3,147.2L577.8,144L577.5,140.7L577.3,137.5L577.3,134.3L577.5,131L577.8,127.8L578.3,124.7L579,121.5L579.9,118.5L581.1,115.5L582.4,112.6L583.9,109.7L585.6,107L587.6,104.4L589.7,102L592,99.7L594.5,97.5L597.2,95.4L600,93.6L602.9,91.8L606,90.2L609.1,88.8L612.3,87.4L615.5,86.3L618.8,85.2L622.1,84.3L625.4,83.4L628.7,82.7L631.9,82L635.1,81.3L638.2,80.8L641.3,80.2L644.2,79.6L647.1,79L649.8,78.4L652.4,77.6L654.9,76.8L657.2,75.8L659.4,74.6L661.4,73.3L663.4,71.8L665.2,70.1L667,68.2L668.6,66.2L670.3,63.9L671.9,61.6L673.6,59.1L675.2,56.6L676.9,54L678.7,51.3L680.5,48.6L682.4,45.9L684.4,43.2L686.5,40.6L688.7,38L691,35.4L693.4,33L695.8,30.6L698.4,28.4L701.1,26.3L703.8,24.4L706.7,22.7L709.6,21.1L712.6,19.8L715.7,18.7L718.8,17.8L721.9,17.1L725,16.7L728.2,16.5L731.4,16.6L734.5,16.9L737.7,17.4L740.8,18.2L743.8,19.1L746.8,20.3L749.8,21.7L752.6,23.3L755.4,25.1L758.1,27.1L760.7,29.2L763.2,31.4L765.6,33.7L767.9,36.2L770.1,38.8L772.2,41.4L774.2,44.1L776.1,46.8L777.9,49.5L779.7,52.2L781.4,54.9L783,57.5L784.6,60.1L786.2,62.6L787.7,65L789.3,67.4L790.9,69.5L792.6,71.6L794.3,73.4L796.2,75.2L798.2,76.7L800.3,78.1L802.6,79.3L805,80.4L807.5,81.4L810.2,82.3L813,83.1L815.9,83.9L818.9,84.8L822,85.6L825.2,86.5L828.4,87.4L831.6,88.4L834.9,89.5L838.1,90.7L841.4,92L844.6,93.4L847.7,95L850.8,96.6L853.8,98.5L856.7,100.4L859.4,102.5L862,104.7L864.5,107.1L866.7,109.6L868.8,112.2L870.6,114.9L872.2,117.8L873.7,120.7L874.8,123.8L875.8,126.9L876.6,130.1L877.1,133.3L877.4,136.5L877.5,139.8L877.3,143.1L877,146.4L876.5,149.7L875.8,153L875,156.2L873.9,159.4L872.7,162.6L871.4,165.7Z" fill="#e0d1d4" transform="translate(0.3,4)"/>
<path d="M870,168.8L868.4,171.8L866.8,174.7L865,177.6L863.2,180.4L861.4,183.1L859.5,185.8L857.6,188.4L855.8,190.9L854,193.4L852.2,195.9L850.4,198.3L848.8,200.6L847.3,203L845.9,205.4L844.7,207.8L843.6,210.3L842.7,212.8L841.9,215.4L841.4,218L840.9,220.7L840.6,223.5L840.4,226.4L840.2,229.4L840.1,232.5L840,235.6L839.9,238.8L839.8,242.1L839.6,245.4L839.4,248.8L839.1,252.2L838.7,255.6L838.2,259L837.6,262.5L836.9,265.9L836,269.2L835,272.6L833.8,275.8L832.5,279L831,282.1L829.3,285.1L827.5,288L825.5,290.7L823.4,293.3L821.1,295.7L818.6,297.9L816,300L813.3,301.9L810.5,303.6L807.5,305.1L804.4,306.4L801.2,307.5L798,308.4L794.7,309L791.3,309.5L787.9,309.8L784.4,309.9L781,309.8L777.5,309.6L774.1,309.2L770.6,308.6L767.2,307.9L763.8,307.2L760.5,306.3L757.2,305.3L754,304.2L750.8,303.2L747.7,302.1L744.7,300.9L741.7,299.8L738.8,298.8L736,297.8L733.2,296.9L730.5,296.1L727.7,295.4L725.1,294.9L722.4,294.6L719.7,294.5L717.1,294.5L714.4,294.7L711.6,295.1L708.9,295.6L706.1,296.2L703.2,296.9L700.3,297.7L697.3,298.5L694.2,299.3L691.1,300.1L687.9,300.9L684.7,301.6L681.4,302.3L678.1,302.9L674.8,303.4L671.4,303.8L668,304.1L664.6,304.2L661.1,304.2L657.7,304.1L654.4,303.7L651,303.2L647.7,302.6L644.5,301.7L641.4,300.6L638.3,299.4L635.3,297.9L632.5,296.3L629.7,294.5L627.1,292.5L624.6,290.4L622.3,288.1L620.1,285.6L618.1,283L616.2,280.3L614.4,277.4L612.8,274.5L611.4,271.5L610.1,268.4L609,265.2L608,262L607.2,258.7L606.5,255.4L605.9,252.1L605.4,248.7L605,245.4L604.7,242.1L604.5,238.8L604.3,235.6L604.2,232.4L604.1,229.2L604,226.1L603.9,223.1L603.8,220.1L603.7,217.2L603.5,214.3L603.1,211.5L602.7,208.8L602.2,206.1L601.5,203.5L600.7,200.9L599.7,198.3L598.6,195.8L597.5,193.2L596.2,190.7L594.9,188.1L593.5,185.5L592.1,182.8L590.7,180.1L589.2,177.4L587.8,174.6L586.5,171.7L585.2,168.8L583.9,165.9L582.7,162.9L581.6,159.8L580.6,156.7L579.7,153.6L578.9,150.4L578.3,147.2L577.8,144L577.5,140.7L577.3,137.5L577.3,134.3L577.5,131L577.8,127.8L578.3,124.7L579,121.5L579.9,118.5L581.1,115.5L582.4,112.6L583.9,109.7L585.6,107L587.6,104.4L589.7,102L592,99.7L594.5,97.5L597.2,95.4L600,93.6L602.9,91.8L606,90.2L609.1,88.8L612.3,87.4L615.5,86.3L618.8,85.2L622.1,84.3L625.4,83.4L628.7,82.7L631.9,82L635.1,81.3L638.2,80.8L641.3,80.2L644.2,79.6L647.1,79L649.8,78.4L652.4,77.6L654.9,76.8L657.2,75.8L659.4,74.6L661.4,73.3L663.4,71.8L665.2,70.1L667,68.2L668.6,66.2L670.3,63.9L671.9,61.6L673.6,59.1L675.2,56.6L676.9,54L678.7,51.3L680.5,48.6L682.4,45.9L684.4,43.2L686.5,40.6L688.7,38L691,35.4L693.4,33L695.8,30.6L698.4,28.4L701.1,26.3L703.8,24.4L706.7,22.7L709.6,21.1L712.6,19.8L715.7,18.7L718.8,17.8L721.9,17.1L725,16.7L728.2,16.5L731.4,16.6L734.5,16.9L737.7,17.4L740.8,18.2L743.8,19.1L746.8,20.3L749.8,21.7L752.6,23.3L755.4,25.1L758.1,27.1L760.7,29.2L763.2,31.4L765.6,33.7L767.9,36.2L770.1,38.8L772.2,41.4L774.2,44.1L776.1,46.8L777.9,49.5L779.7,52.2L781.4,54.9L783,57.5L784.6,60.1L786.2,62.6L787.7,65L789.3,67.4L790.9,69.5L792.6,71.6L794.3,73.4L796.2,75.2L798.2,76.7L800.3,78.1L802.6,79.3L805,80.4L807.5,81.4L810.2,82.3L813,83.1L815.9,83.9L818.9,84.8L822,85.6L825.2,86.5L828.4,87.4L831.6,88.4L834.9,89.5L838.1,90.7L841.4,92L844.6,93.4L847.7,95L850.8,96.6L853.8,98.5L856.7,100.4L859.4,102.5L862,104.7L864.5,107.1L866.7,109.6L868.8,112.2L870.6,114.9L872.2,117.8L873.7,120.7L874.8,123.8L875.8,126.9L876.6,130.1L877.1,133.3L877.4,136.5L877.5,139.8L877.3,143.1L877,146.4L876.5,149.7L875.8,153L875,156.2L873.9,159.4L872.7,162.6L871.4,165.7Z" fill="#f0e4e6" filter="url(#pumP)"/>
<circle cx="721.3" cy="178" r="21.6" fill="#8a8386"/><circle cx="722.6" cy="179" r="19.2" fill="#fdfcfc"/>
<g clip-path="url(#cc1)"><ellipse cx="631" cy="475.5" rx="30.5" ry="31.5" fill="url(#bg2)"/><ellipse cx="760" cy="465.5" rx="29" ry="31.5" fill="url(#bg3)"/><ellipse cx="893" cy="478" rx="33" ry="33" fill="url(#bg4)"/><ellipse cx="647" cy="623" rx="30" ry="32" fill="url(#bg4)"/><ellipse cx="769" cy="622" rx="28" ry="30.5" fill="url(#bg5)"/><ellipse cx="897" cy="608" rx="32" ry="32" fill="url(#bg6)"/><path d="M525,453Q525,444 534,444L587,444Q596,444 596,453Q604,491 596,529Q596,538 587,538L534,538Q525,538 525,529Q517,491 525,453Z" fill="url(#stoneG)" filter="url(#pumM)"/><path d="M659,400Q659,391 668,391L721,391Q730,391 730,400Q738,467.5 730,535Q730,544 721,544L668,544Q659,544 659,535Q651,467.5 659,400Z" fill="url(#stoneG)" filter="url(#pumM)"/><path d="M650,389L667,389Q659,467.5 667,546L650,546Z" fill="#ffffff" opacity="0.62" clip-path="url(#c19)"/><path d="M783,407Q783,398 792,398L848,398Q857,398 857,407Q865,469.5 857,532Q857,541 848,541L792,541Q783,541 783,532Q775,469.5 783,407Z" fill="url(#stoneG)" filter="url(#pumM)"/><path d="M774,396L790,396Q782,469.5 790,543L774,543Z" fill="#ffffff" opacity="0.62" clip-path="url(#c20)"/><path d="M535,557Q535,548 544,548L610,548Q619,548 619,557Q627,618.5 619,680Q619,689 610,689L544,689Q535,689 535,680Q527,618.5 535,557Z" fill="url(#stoneG)" filter="url(#pumM)"/><path d="M666,556Q666,547 675,547L735,547Q744,547 744,556Q752,629.5 744,703Q744,712 735,712L675,712Q666,712 666,703Q658,629.5 666,556Z" fill="url(#stoneG)" filter="url(#pumM)"/><path d="M657,545L679,545Q671,629.5 679,714L657,714Z" fill="#ffffff" opacity="0.62" clip-path="url(#c21)"/><path d="M777,561Q777,552 786,552L858,552Q867,552 867,561Q875,626 867,691Q867,700 858,700L786,700Q777,700 777,691Q769,626 777,561Z" fill="url(#stoneG)" filter="url(#pumM)"/><path d="M768,550L791,550Q783,626 791,702L768,702Z" fill="#ffffff" opacity="0.62" clip-path="url(#c22)"/></g>
<g clip-path="url(#cc2)"><path d="M615.5,824C621.9,806 620.9,814.2 635.4,804C649.9,793.8 647.7,796.7 663.9,789.9C680.1,783.1 669.1,784.7 689.5,781.3C709.9,777.9 706.4,776.8 732,778.5C757.6,780.2 756.1,781.9 775,787C793.9,792.1 783,788.8 795,795.6C807,802.4 803.9,798.7 815,809.8C826.1,820.9 826.5,822.3 832,832.6C837.5,842.9 832.8,831.3 833.4,844C834,856.7 834,857.1 834,875C834,892.9 834.9,892.6 833.4,903.8C831.9,915 834.5,908.1 829,912.4C823.5,916.7 825.2,915.4 815,918C804.8,920.6 807,916.7 795,921C783,925.3 786.1,927.8 775,932.3C763.9,936.8 771.5,934.6 758,936C744.5,937.4 745.4,938.1 730,937C714.6,935.9 718.8,937.1 706.6,932.3C694.5,927.5 704,926.2 689.5,921C675,915.8 677,917.6 658.2,915C639.4,912.4 638.9,914.5 626.9,912.4C614.9,910.3 622.2,922.5 618.3,908C614.4,893.5 614.8,889.2 614,864C613.2,838.8 609.1,842 615.5,824Z" fill="url(#sideG)" filter="url(#pumL)"/><g clip-path="url(#c23)"><path d="M606,826C610.8,818.8 615.1,810.9 630,800C644.9,789.1 646.3,791.4 662,785C677.7,778.6 670.3,779.2 689,776C707.7,772.8 708.5,771.4 732,773C755.5,774.6 759.4,777.2 777,782C794.6,786.8 786.5,784.6 798,791C809.5,797.4 808.8,795.1 820,806C831.2,816.9 834.7,820.8 840,832C845.3,843.2 846.7,845.3 840,848C833.3,850.7 829.3,845.2 815,842C800.7,838.8 801.6,835.2 786.4,836C771.2,836.8 773.2,841 758,845C742.8,849 744.6,851 729.4,851C714.2,851 713.9,849 701,845C688.1,841 690.1,836 681,836C671.9,836 678.2,845 666.8,845C655.4,845 652.9,840.8 638.3,836C623.7,831.2 620.6,829.7 612,827C603.4,824.3 601.2,833.2 606,826Z" fill="#77747c" opacity="0.18" transform="translate(0,3)"/><path d="M606,826C610.8,818.8 615.1,810.9 630,800C644.9,789.1 646.3,791.4 662,785C677.7,778.6 670.3,779.2 689,776C707.7,772.8 708.5,771.4 732,773C755.5,774.6 759.4,777.2 777,782C794.6,786.8 786.5,784.6 798,791C809.5,797.4 808.8,795.1 820,806C831.2,816.9 834.7,820.8 840,832C845.3,843.2 846.7,845.3 840,848C833.3,850.7 829.3,845.2 815,842C800.7,838.8 801.6,835.2 786.4,836C771.2,836.8 773.2,841 758,845C742.8,849 744.6,851 729.4,851C714.2,851 713.9,849 701,845C688.1,841 690.1,836 681,836C671.9,836 678.2,845 666.8,845C655.4,845 652.9,840.8 638.3,836C623.7,831.2 620.6,829.7 612,827C603.4,824.3 601.2,833.2 606,826Z" fill="#ffffff" filter="url(#pumTL)"/></g><ellipse cx="732" cy="771" rx="43" ry="43" fill="url(#bg7)"/><g transform="translate(737,954) scale(1.43)"><path d="M-10,66 L6,66 L6,73 Q1,82 -6,76Z" fill="#e9e2a4"/><path d="M-3,68 L4,68 L3,74 Q0,78 -2,74Z" fill="#cfc478"/><path d="M-20,4 L-18,-9 Q-16,-15 -10,-15.5 L15,-15.5 Q21,-15 21,-8 L22,4Z" fill="url(#tabG)"/><path d="M-19,3 L-17.5,-6 Q-8,-4.5 2,-1.5 L8,3Z" fill="#ceb63c"/><path d="M-17.6,-6 L-16,-11 Q-10,-7 -4,-5.5Z" fill="#8f7d22"/><circle cx="0.5" cy="-11" r="6.3" fill="#f6f4ee"/><path d="M-24,2.5 Q0,-3 25.5,1.5 C27,8 30,19 33,26 C37,35 42,44 47,51.5 Q50,57 43,62.5 Q22,69.5 0,70 Q-24,69.5 -42,63.5 Q-50,58 -47.5,53.5 C-42,45 -35,35 -31.3,25.7 C-28.5,19 -26,9 -24,2.5Z" fill="url(#bellG)"/><g clip-path="url(#bc24)"><path d="M-14,5 Q0,3 15,5 L16.5,50 Q0,56 -16.5,50Z" fill="url(#bellD)"/><path d="M-4.5,8 L-1.5,8 L-1,46 L-5,46Z" fill="#b9a53a" opacity="0.55"/><path d="M5,8 L8,8 L9,44 L6,44Z" fill="#2e2a08" opacity="0.45"/><path d="M-23,6 Q-19,5 -17,6 L-21,46 Q-27,50 -34,52 Q-26,30 -23,6Z" fill="#fbf2a2" opacity="0.75"/><path d="M19,6 L23,6 Q27,30 38,48 L27,50 Q21,30 19,6Z" fill="#f7e77a" opacity="0.45"/><path d="M-9,52 Q0,55 13,52 L27,60 Q0,66 -24,61Z" fill="#f3ecb8" opacity="0.85"/><ellipse cx="-0.5" cy="43.5" rx="3.4" ry="5" fill="#d9cf6e"/><path d="M-49,54 Q0,69 49,53 L50,64 Q0,80 -50,65Z" fill="url(#rimG)" opacity="0.9"/><path d="M-46,60.5 Q0,74 46,59.5 L44,63 Q0,71.5 -43,64Z" fill="#bf8a14" opacity="0.75"/></g><path d="M-24,2.5 Q0,-3 25.5,1.5 Q0,7 -24,2.5Z" fill="#e9cf4a" opacity="0.9"/></g></g>
<g clip-path="url(#cc3)"><g transform="translate(568.6,1200.5) scale(1.022,1.032)"><use href="#rope"/><path d="M188.6,241.2C190.2,244.6 190.7,246.1 193.8,252.6C196.9,259.1 197,257 199,263C201,269 200,265.8 200.4,272.7C200.8,279.6 200.5,282 200.5,286" stroke="#c9cad2" stroke-width="2.4" fill="none" stroke-linecap="round"/><path d="M188.6,241.2C190.2,244.6 190.7,246.1 193.8,252.6C196.9,259.1 197,257 199,263C201,269 200,265.8 200.4,272.7C200.8,279.6 200.5,282 200.5,286" stroke="#6e6f78" stroke-width="1.1" fill="none" stroke-linecap="round"/><path d="M217.5,233.3C219.3,235.9 221.2,236.2 223.6,242C226,247.8 226.5,246.8 225.4,252.6C224.3,258.4 226.8,255.3 220,261.3C213.2,267.3 207.8,269.3 202.6,272.7" stroke="#c9cad2" stroke-width="2.4" fill="none" stroke-linecap="round"/><path d="M217.5,233.3C219.3,235.9 221.2,236.2 223.6,242C226,247.8 226.5,246.8 225.4,252.6C224.3,258.4 226.8,255.3 220,261.3C213.2,267.3 207.8,269.3 202.6,272.7" stroke="#6e6f78" stroke-width="1.1" fill="none" stroke-linecap="round"/><path d="M200.5,285 L200.6,330" stroke="#c9cad2" stroke-width="2.4"/><path d="M200.5,285 L200.6,330" stroke="#6e6f78" stroke-width="1.1"/></g></g>
<circle cx="723.3" cy="178.05" r="172.7" fill="none" stroke="#a98d55" stroke-width="4"/>
<circle cx="723" cy="559.7" r="172.9" fill="none" stroke="#a98d55" stroke-width="4"/>
<circle cx="723" cy="941.2" r="172.6" fill="none" stroke="#a98d55" stroke-width="4"/>
<circle cx="722.9" cy="1322.4" r="172.7" fill="none" stroke="#a98d55" stroke-width="4"/>
<text x="946" y="111.3" font-size="37" fill="#111" textLength="420.2" lengthAdjust="spacingAndGlyphs">Star-shaped Lava Stones</text>
<rect x="960" y="148.3" width="29.2" height="29.3" fill="#fff" stroke="#0a0a0a" stroke-width="2.2"/><path d="M961.9,165.8L967.1,163.3L972,168.5L984.9,151.5L986.7,151.8L986.5,159.8L972,175Z" fill="#0c0c0c"/>
<text x="1001" y="170.6" font-size="33" fill="#1c4fa3" textLength="293.8" lengthAdjust="spacingAndGlyphs">calcium supplement</text>
<rect x="960" y="198.4" width="29.2" height="28.9" fill="#fff" stroke="#0a0a0a" stroke-width="2.2"/><path d="M961.9,215.9L967.1,213.4L972,218.6L984.9,201.6L986.7,201.9L986.5,209.9L972,225.1Z" fill="#0c0c0c"/>
<text x="1001" y="221.3" font-size="33" fill="#1c4fa3" textLength="324.3" lengthAdjust="spacingAndGlyphs">grinds beak efficiently</text>
<text x="931.8" y="509.7" font-size="37" fill="#111" textLength="376.3" lengthAdjust="spacingAndGlyphs">Colorful Wood Beads</text>
<rect x="958.9" y="557.3" width="31.2" height="30.8" fill="#fff" stroke="#0a0a0a" stroke-width="2.2"/><path d="M961,576L966.6,573.3L971.7,578.8L985.5,560.8L987.3,561.1L987.1,569.6L971.7,585.7Z" fill="#0c0c0c"/>
<text x="1007.8" y="566.5" font-size="33" fill="#1c4fa3" textLength="224.7" lengthAdjust="spacingAndGlyphs">attract parrot’s</text>
<text x="1007.8" y="599.5" font-size="33" fill="#1c4fa3" textLength="138.1" lengthAdjust="spacingAndGlyphs">attention</text>
<text x="933.4" y="872.9" font-size="37" fill="#111" textLength="199.9" lengthAdjust="spacingAndGlyphs">Bigger Bell</text>
<rect x="951.6" y="919.9" width="33" height="32.1" fill="#fff" stroke="#0a0a0a" stroke-width="2.2"/><path d="M953.9,939.7L959.7,936.8L965.1,942.7L979.7,923.6L981.6,924L981.4,932.9L965.1,949.9Z" fill="#0c0c0c"/>
<text x="999.8" y="929" font-size="33" fill="#1c4fa3" textLength="301" lengthAdjust="spacingAndGlyphs">fun to play, reduce</text>
<text x="999.8" y="963.7" font-size="33" fill="#1c4fa3" textLength="158.3" lengthAdjust="spacingAndGlyphs">loneliness</text>
<rect x="951.6" y="990.1" width="33" height="32.5" fill="#fff" stroke="#0a0a0a" stroke-width="2.2"/><path d="M953.9,1009.9L959.7,1007L965.1,1012.9L979.7,993.8L981.6,994.2L981.4,1003.1L965.1,1020.1Z" fill="#0c0c0c"/>
<text x="994.3" y="1015" font-size="33" fill="#1c4fa3" textLength="287.3" lengthAdjust="spacingAndGlyphs">anti-choke design</text>
<text x="933.1" y="1278.4" font-size="37" fill="#111" textLength="409.3" lengthAdjust="spacingAndGlyphs">Colorful Cotton Rope</text>
<rect x="955.5" y="1332" width="33.3" height="32.9" fill="#fff" stroke="#0a0a0a" stroke-width="2.2"/><path d="M957.8,1352L963.7,1349.1L969.2,1355L983.8,1335.8L985.8,1336.1L985.6,1345.1L969.2,1362.3Z" fill="#0c0c0c"/>
<text x="1003.9" y="1341.4" font-size="33" fill="#1c4fa3" textLength="349.8" lengthAdjust="spacingAndGlyphs">safe for parrot’s beak</text>
<text x="1003.9" y="1378.1" font-size="33" fill="#1c4fa3" textLength="190.8" lengthAdjust="spacingAndGlyphs">anti-caught</text>
</svg>
</body></html>
